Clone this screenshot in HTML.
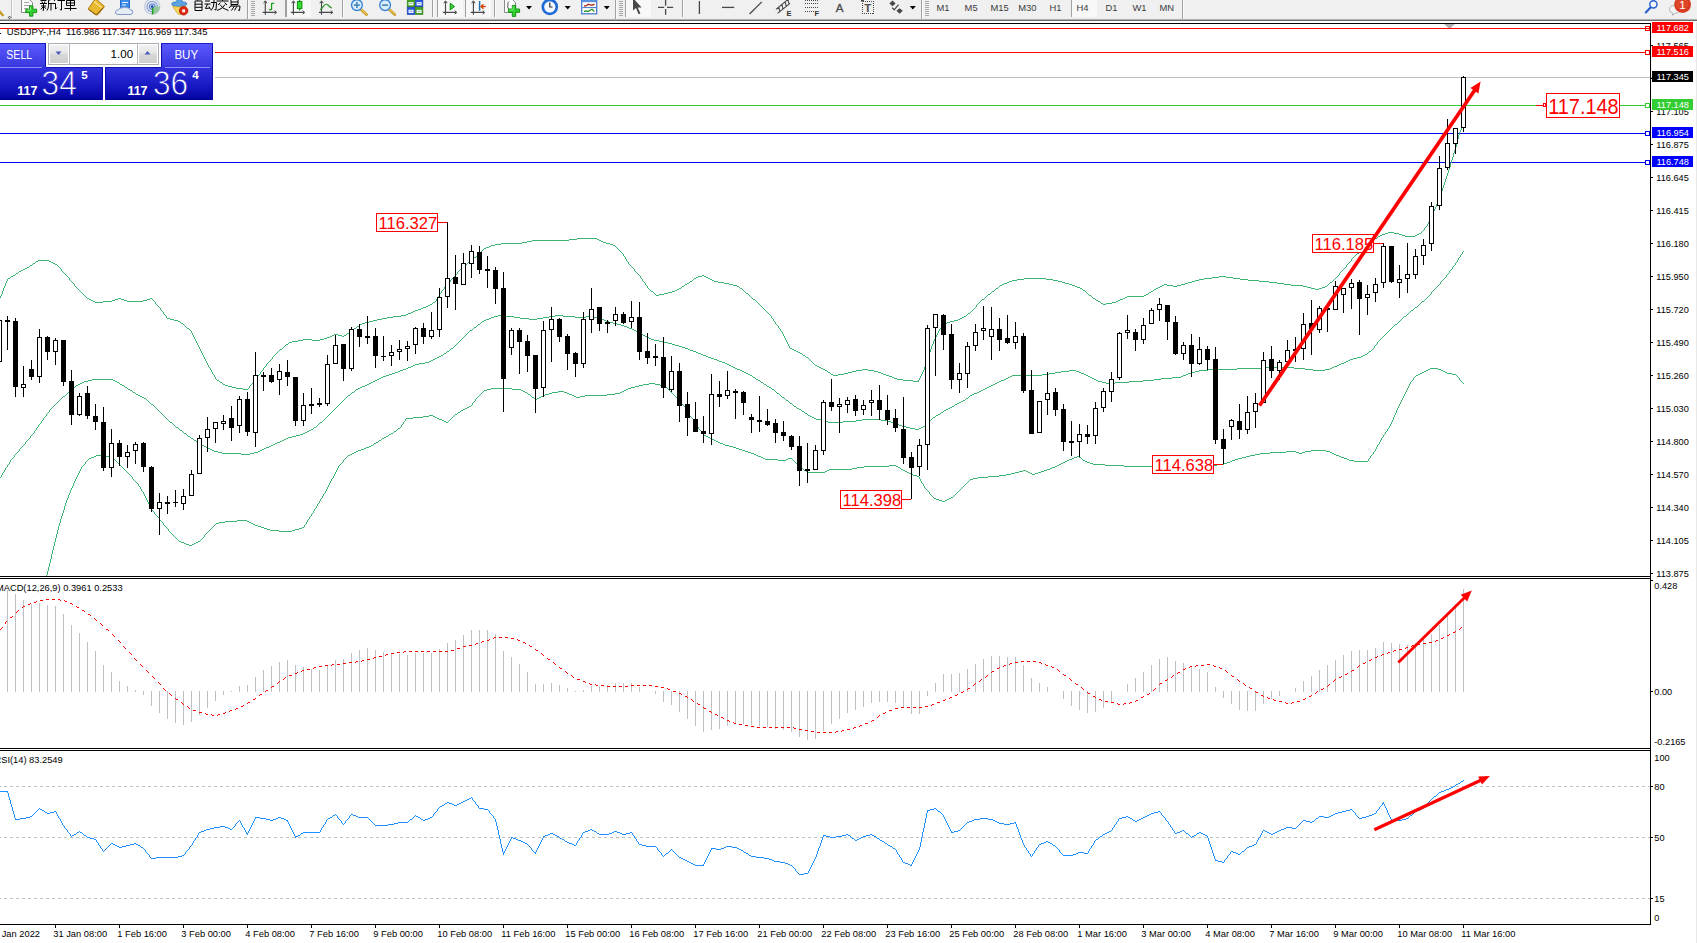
<!DOCTYPE html><html><head><meta charset="utf-8"><title>USDJPY H4</title>
<style>html,body{margin:0;padding:0;background:#fff;overflow:hidden}svg{display:block}text{font-family:"Liberation Sans",sans-serif}</style></head><body>
<svg width="1697" height="943" viewBox="0 0 1697 943">
<rect x="0" y="0" width="1697" height="943" fill="#fff" />
<defs><clipPath id="cm"><rect x="0" y="24" width="1650" height="552"/></clipPath><clipPath id="c2"><rect x="0" y="579" width="1650" height="169"/></clipPath><clipPath id="c3"><rect x="0" y="751" width="1650" height="173"/></clipPath></defs>
<g shape-rendering="crispEdges">
<rect x="0" y="28" width="1650" height="1" fill="#ff0000" />
<rect x="0" y="52" width="1650" height="1" fill="#ff0000" />
<rect x="0" y="77" width="1653" height="1" fill="#c0c0c0" />
<rect x="0" y="105" width="1650" height="1" fill="#32cd32" />
<rect x="0" y="133" width="1650" height="1" fill="#0000ff" />
<rect x="0" y="162" width="1650" height="1" fill="#0000ff" />
</g>
<path d="M0.5 296v2M1.5 294v2M2.5 291v3M3.5 288v3M4.5 286v2M5.5 283v3M6.5 281v2M7.5 279v2M61.5 269v2M69.5 278v2M74.5 284v2M155.5 302v2M160.5 308v2M163.5 312v2M166.5 316v2M191.5 331v2M192.5 333v2M193.5 335v2M194.5 337v2M195.5 339v2M196.5 341v2M197.5 343v2M198.5 345v2M199.5 347v2M200.5 349v2M201.5 351v2M202.5 353v2M203.5 355v2M204.5 357v2M205.5 359v2M206.5 361v2M207.5 363v2M208.5 365v2M210.5 368v2M211.5 370v2M212.5 372v2M214.5 375v2M215.5 377v2M249.5 386v2M254.5 380v2M257.5 376v2M260.5 372v2M263.5 368v2M266.5 364v2M272.5 357v2M436.5 299v2M437.5 297v2M439.5 294v2M441.5 291v2M444.5 287v2M450.5 280v2M457.5 272v2M623.5 254v2M625.5 257v2M626.5 259v2M628.5 262v2M634.5 269v2M640.5 276v2M642.5 279v2M645.5 283v2M647.5 286v2M771.5 316v2M773.5 319v2M775.5 322v2M778.5 326v2M780.5 329v2M782.5 332v2M783.5 334v2M784.5 336v2M785.5 338v2M786.5 340v2M787.5 342v2M788.5 344v2M789.5 346v2M918.5 380v2M919.5 378v2M920.5 376v2M921.5 374v2M922.5 372v2M923.5 370v2M924.5 367v3M925.5 364v3M926.5 361v3M927.5 358v3M928.5 355v3M929.5 352v3M930.5 349v3M931.5 346v3M932.5 344v2M933.5 341v3M934.5 339v2M935.5 337v2M936.5 335v2M937.5 333v2M938.5 331v2M939.5 329v2M976.5 305v2M1339.5 273v2M1346.5 265v2M1351.5 259v2M1424.5 228v2M1427.5 224v2M1428.5 222v2M1429.5 220v2M1430.5 218v2M1431.5 216v2M1432.5 213v3M1433.5 211v2M1434.5 209v2M1435.5 207v2M1436.5 204v3M1437.5 201v3M1438.5 199v2M1439.5 196v3M1440.5 193v3M1441.5 191v2M1442.5 188v3M1443.5 185v3M1444.5 182v3M1445.5 179v3M1446.5 176v3M1447.5 173v3M1448.5 170v3M1449.5 167v3M1450.5 163v4M1451.5 160v3M1452.5 157v3M1453.5 153v4M1454.5 150v3M1455.5 147v3M1456.5 143v4M1457.5 139v4M1458.5 135v4M1459.5 132v3M1460.5 130v2M1461.5 128v2M1462.5 126v2M1463 125.5h1M1426 226.5h1M1425 227.5h1M1423 230.5h1M1422 231.5h1M1388 232.5h6M1421 232.5h1M1385 233.5h3M1394 233.5h5M1419 233.5h2M1382 234.5h3M1399 234.5h3M1417 234.5h2M1380 235.5h2M1402 235.5h3M1415 235.5h2M1378 236.5h2M1405 236.5h10M1377 237.5h1M577 238.5h20M1375 238.5h2M569 239.5h8M597 239.5h2M1374 239.5h1M532 240.5h37M599 240.5h2M1372 240.5h2M527 241.5h5M601 241.5h2M1371 241.5h1M522 242.5h5M603 242.5h3M1370 242.5h1M501 243.5h21M606 243.5h4M1369 243.5h1M495 244.5h6M610 244.5h3M1368 244.5h1M491 245.5h4M613 245.5h2M1366 245.5h2M489 246.5h2M615 246.5h1M1365 246.5h1M486 247.5h3M616 247.5h1M1364 247.5h1M484 248.5h2M617 248.5h1M1363 248.5h1M483 249.5h1M618 249.5h1M1362 249.5h1M482 250.5h1M619 250.5h1M1361 250.5h1M481 251.5h1M620 251.5h1M1360 251.5h1M480 252.5h1M621 252.5h1M1359 252.5h1M479 253.5h1M622 253.5h1M1357 253.5h2M478 254.5h1M1356 254.5h1M477 255.5h1M1355 255.5h1M476 256.5h1M624 256.5h1M1354 256.5h1M474 257.5h2M1353 257.5h1M473 258.5h1M1352 258.5h1M472 259.5h1M38 260.5h11M470 260.5h2M36 261.5h2M49 261.5h2M469 261.5h1M627 261.5h1M1350 261.5h1M35 262.5h1M51 262.5h2M468 262.5h1M1349 262.5h1M33 263.5h2M53 263.5h2M467 263.5h1M1348 263.5h1M32 264.5h1M55 264.5h2M466 264.5h1M629 264.5h1M1347 264.5h1M30 265.5h2M57 265.5h1M464 265.5h2M630 265.5h1M29 266.5h1M58 266.5h1M463 266.5h1M631 266.5h1M27 267.5h2M59 267.5h1M462 267.5h1M632 267.5h1M1345 267.5h1M25 268.5h2M60 268.5h1M461 268.5h1M633 268.5h1M1344 268.5h1M23 269.5h2M460 269.5h1M1343 269.5h1M21 270.5h2M459 270.5h1M1342 270.5h1M19 271.5h2M62 271.5h1M458 271.5h1M635 271.5h1M1341 271.5h1M18 272.5h1M63 272.5h1M636 272.5h1M1340 272.5h1M16 273.5h2M64 273.5h1M637 273.5h1M15 274.5h1M65 274.5h1M456 274.5h1M638 274.5h1M13 275.5h2M66 275.5h1M455 275.5h1M639 275.5h1M702 275.5h2M1338 275.5h1M11 276.5h2M67 276.5h1M454 276.5h1M698 276.5h4M704 276.5h2M1219 276.5h7M1337 276.5h1M10 277.5h1M68 277.5h1M453 277.5h1M696 277.5h2M706 277.5h2M1212 277.5h7M1226 277.5h7M1336 277.5h1M8 278.5h2M452 278.5h1M641 278.5h1M694 278.5h2M708 278.5h2M1024 278.5h22M1204 278.5h8M1233 278.5h7M1335 278.5h1M451 279.5h1M693 279.5h1M710 279.5h2M1017 279.5h7M1046 279.5h7M1199 279.5h5M1240 279.5h8M1334 279.5h1M70 280.5h1M692 280.5h1M712 280.5h2M1012 280.5h5M1053 280.5h5M1195 280.5h4M1248 280.5h11M1333 280.5h1M71 281.5h1M643 281.5h1M690 281.5h2M714 281.5h4M1009 281.5h3M1058 281.5h4M1192 281.5h3M1259 281.5h10M1332 281.5h1M72 282.5h1M449 282.5h1M644 282.5h1M689 282.5h1M718 282.5h6M1007 282.5h2M1062 282.5h3M1188 282.5h4M1269 282.5h8M1330 282.5h2M73 283.5h1M448 283.5h1M687 283.5h2M724 283.5h5M1004 283.5h3M1065 283.5h4M1185 283.5h3M1277 283.5h7M1329 283.5h1M447 284.5h1M685 284.5h2M729 284.5h4M1002 284.5h2M1069 284.5h3M1164 284.5h3M1181 284.5h4M1284 284.5h7M1328 284.5h1M446 285.5h1M646 285.5h1M684 285.5h1M733 285.5h4M1000 285.5h2M1072 285.5h3M1162 285.5h2M1167 285.5h6M1177 285.5h4M1291 285.5h12M1327 285.5h1M75 286.5h1M445 286.5h1M682 286.5h2M737 286.5h2M999 286.5h1M1075 286.5h2M1160 286.5h2M1173 286.5h4M1303 286.5h4M1325 286.5h2M76 287.5h1M681 287.5h1M739 287.5h1M998 287.5h1M1077 287.5h3M1158 287.5h2M1307 287.5h4M1322 287.5h3M77 288.5h1M648 288.5h1M679 288.5h2M740 288.5h2M996 288.5h2M1080 288.5h2M1156 288.5h2M1311 288.5h4M1319 288.5h3M78 289.5h1M443 289.5h1M649 289.5h1M677 289.5h2M742 289.5h1M995 289.5h1M1082 289.5h1M1154 289.5h2M1315 289.5h4M79 290.5h1M442 290.5h1M650 290.5h1M675 290.5h2M743 290.5h1M994 290.5h1M1083 290.5h2M1153 290.5h1M80 291.5h1M651 291.5h2M672 291.5h3M744 291.5h1M992 291.5h2M1085 291.5h1M1151 291.5h2M81 292.5h1M653 292.5h1M668 292.5h4M745 292.5h1M991 292.5h1M1086 292.5h1M1149 292.5h2M82 293.5h1M440 293.5h1M654 293.5h1M664 293.5h4M746 293.5h2M990 293.5h1M1087 293.5h1M1148 293.5h1M83 294.5h1M655 294.5h1M659 294.5h5M748 294.5h1M988 294.5h2M1088 294.5h1M1146 294.5h2M84 295.5h1M656 295.5h3M749 295.5h1M987 295.5h1M1089 295.5h2M1144 295.5h2M85 296.5h1M438 296.5h1M750 296.5h1M986 296.5h1M1091 296.5h1M1127 296.5h17M86 297.5h1M751 297.5h1M985 297.5h1M1092 297.5h1M1125 297.5h2M87 298.5h2M118 298.5h3M150 298.5h2M752 298.5h1M984 298.5h1M1093 298.5h2M1123 298.5h2M89 299.5h2M115 299.5h3M121 299.5h3M147 299.5h3M152 299.5h1M753 299.5h2M982 299.5h2M1095 299.5h1M1120 299.5h3M91 300.5h2M112 300.5h3M124 300.5h3M143 300.5h4M153 300.5h1M755 300.5h1M981 300.5h1M1096 300.5h2M1118 300.5h2M93 301.5h2M103 301.5h9M127 301.5h16M154 301.5h1M435 301.5h1M756 301.5h1M980 301.5h1M1098 301.5h2M1116 301.5h2M95 302.5h8M433 302.5h2M757 302.5h1M979 302.5h1M1100 302.5h1M1112 302.5h4M432 303.5h1M758 303.5h1M978 303.5h1M1101 303.5h2M1106 303.5h6M156 304.5h1M430 304.5h2M759 304.5h1M977 304.5h1M1103 304.5h3M157 305.5h1M428 305.5h2M760 305.5h1M158 306.5h1M426 306.5h2M761 306.5h1M159 307.5h1M423 307.5h3M762 307.5h1M975 307.5h1M421 308.5h2M763 308.5h1M974 308.5h1M418 309.5h3M764 309.5h1M973 309.5h1M161 310.5h1M415 310.5h3M765 310.5h1M972 310.5h1M162 311.5h1M413 311.5h2M766 311.5h1M971 311.5h1M411 312.5h2M767 312.5h1M970 312.5h1M408 313.5h3M768 313.5h1M968 313.5h2M164 314.5h1M406 314.5h2M769 314.5h1M967 314.5h1M165 315.5h1M401 315.5h5M770 315.5h1M966 315.5h1M393 316.5h8M964 316.5h2M387 317.5h6M962 317.5h2M167 318.5h3M382 318.5h5M772 318.5h1M960 318.5h2M170 319.5h4M377 319.5h5M958 319.5h2M174 320.5h4M373 320.5h4M954 320.5h4M178 321.5h2M369 321.5h4M774 321.5h1M950 321.5h4M180 322.5h1M365 322.5h4M947 322.5h3M181 323.5h2M362 323.5h3M946 323.5h1M183 324.5h1M360 324.5h2M776 324.5h1M945 324.5h1M184 325.5h1M359 325.5h1M777 325.5h1M943 325.5h2M185 326.5h1M357 326.5h2M942 326.5h1M186 327.5h1M356 327.5h1M941 327.5h1M187 328.5h2M354 328.5h2M779 328.5h1M940 328.5h1M189 329.5h1M353 329.5h1M190 330.5h1M351 330.5h2M350 331.5h1M781 331.5h1M349 332.5h1M347 333.5h2M334 334.5h4M346 334.5h1M332 335.5h2M338 335.5h4M344 335.5h2M330 336.5h2M342 336.5h2M327 337.5h3M324 338.5h3M303 339.5h9M320 339.5h4M298 340.5h5M312 340.5h8M292 341.5h6M289 342.5h3M288 343.5h1M286 344.5h2M285 345.5h1M284 346.5h1M283 347.5h1M282 348.5h1M790 348.5h2M280 349.5h2M792 349.5h2M279 350.5h1M794 350.5h2M278 351.5h1M796 351.5h2M277 352.5h1M798 352.5h2M276 353.5h1M800 353.5h2M275 354.5h1M802 354.5h1M274 355.5h1M803 355.5h2M273 356.5h1M805 356.5h1M806 357.5h2M808 358.5h1M271 359.5h1M809 359.5h1M270 360.5h1M810 360.5h1M269 361.5h1M811 361.5h1M268 362.5h1M812 362.5h1M267 363.5h1M813 363.5h1M814 364.5h1M815 365.5h2M265 366.5h1M817 366.5h2M209 367.5h1M264 367.5h1M819 367.5h2M821 368.5h2M823 369.5h2M862 369.5h6M262 370.5h1M825 370.5h2M856 370.5h6M868 370.5h6M261 371.5h1M827 371.5h1M852 371.5h4M874 371.5h4M828 372.5h2M848 372.5h4M878 372.5h3M830 373.5h1M844 373.5h4M881 373.5h2M213 374.5h1M259 374.5h1M831 374.5h2M838 374.5h6M883 374.5h3M258 375.5h1M833 375.5h5M886 375.5h3M889 376.5h3M892 377.5h2M256 378.5h1M894 378.5h3M216 379.5h1M255 379.5h1M897 379.5h6M217 380.5h2M903 380.5h10M219 381.5h1M913 381.5h5M220 382.5h2M253 382.5h1M222 383.5h1M252 383.5h1M223 384.5h2M251 384.5h1M225 385.5h3M250 385.5h1M228 386.5h4M232 387.5h4M236 388.5h7M248 388.5h1M243 389.5h5" stroke="#3cb371" stroke-width="1" fill="none" shape-rendering="crispEdges"/>
<path d="M1.5 475v2M2.5 473v2M4.5 470v2M5.5 468v2M7.5 465v2M9.5 462v2M10.5 460v2M14.5 455v2M19.5 449v2M25.5 442v2M30.5 436v2M34.5 431v2M36.5 428v2M38.5 425v2M41.5 421v2M43.5 418v2M46.5 414v2M49.5 410v2M1374.5 346v2M1377.5 342v2M1431.5 292v2M1440.5 282v2M1446.5 275v2M1449.5 271v2M1452.5 267v2M1455.5 263v2M1457.5 260v2M1458.5 258v2M1460.5 255v2M1462.5 252v2M1463 251.5h1M1461 254.5h1M1459 257.5h1M1456 262.5h1M1454 265.5h1M1453 266.5h1M1451 269.5h1M1450 270.5h1M1448 273.5h1M1447 274.5h1M1445 277.5h1M1444 278.5h1M1443 279.5h1M1442 280.5h1M1441 281.5h1M1439 284.5h1M1438 285.5h1M1437 286.5h1M1436 287.5h1M1435 288.5h1M1434 289.5h1M1433 290.5h1M1432 291.5h1M1430 294.5h1M1429 295.5h1M1428 296.5h1M1427 297.5h1M1426 298.5h1M1425 299.5h1M1424 300.5h1M1422 301.5h2M1421 302.5h1M1420 303.5h1M1419 304.5h1M1418 305.5h1M1417 306.5h1M1415 307.5h2M1414 308.5h1M1413 309.5h1M1411 310.5h2M1410 311.5h1M1409 312.5h1M1408 313.5h1M1407 314.5h1M498 315.5h8M555 315.5h8M1406 315.5h1M494 316.5h4M506 316.5h8M549 316.5h6M563 316.5h12M586 316.5h8M1404 316.5h2M491 317.5h3M514 317.5h6M543 317.5h6M575 317.5h11M594 317.5h4M1403 317.5h1M489 318.5h2M520 318.5h9M537 318.5h6M598 318.5h3M1402 318.5h1M486 319.5h3M529 319.5h8M601 319.5h3M1401 319.5h1M484 320.5h2M604 320.5h2M1400 320.5h1M482 321.5h2M606 321.5h3M1399 321.5h1M481 322.5h1M609 322.5h4M1398 322.5h1M480 323.5h1M613 323.5h4M1397 323.5h1M478 324.5h2M617 324.5h4M1395 324.5h2M477 325.5h1M621 325.5h3M1394 325.5h1M476 326.5h1M624 326.5h3M1393 326.5h1M474 327.5h2M627 327.5h2M1392 327.5h1M473 328.5h1M629 328.5h3M1391 328.5h1M472 329.5h1M632 329.5h2M1390 329.5h1M470 330.5h2M634 330.5h2M1389 330.5h1M469 331.5h1M636 331.5h2M1388 331.5h1M468 332.5h1M638 332.5h2M1387 332.5h1M467 333.5h1M640 333.5h1M1386 333.5h1M466 334.5h1M641 334.5h2M1385 334.5h1M465 335.5h1M643 335.5h2M1384 335.5h1M464 336.5h1M645 336.5h2M1383 336.5h1M463 337.5h1M647 337.5h2M1382 337.5h1M462 338.5h1M649 338.5h2M1381 338.5h1M461 339.5h1M651 339.5h3M1380 339.5h1M460 340.5h1M654 340.5h5M1379 340.5h1M459 341.5h1M659 341.5h5M1378 341.5h1M458 342.5h1M664 342.5h4M457 343.5h1M668 343.5h4M456 344.5h1M672 344.5h3M1376 344.5h1M455 345.5h1M675 345.5h4M1375 345.5h1M454 346.5h1M679 346.5h3M453 347.5h1M682 347.5h3M451 348.5h2M685 348.5h3M1373 348.5h1M450 349.5h1M688 349.5h2M1372 349.5h1M449 350.5h1M690 350.5h3M1371 350.5h1M447 351.5h2M693 351.5h3M1369 351.5h2M446 352.5h1M696 352.5h2M1368 352.5h1M444 353.5h2M698 353.5h3M1367 353.5h1M443 354.5h1M701 354.5h2M1365 354.5h2M441 355.5h2M703 355.5h3M1363 355.5h2M439 356.5h2M706 356.5h2M1361 356.5h2M437 357.5h2M708 357.5h3M1357 357.5h4M435 358.5h2M711 358.5h3M1353 358.5h4M433 359.5h2M714 359.5h3M1350 359.5h3M431 360.5h2M717 360.5h2M1348 360.5h2M429 361.5h2M719 361.5h3M1346 361.5h2M425 362.5h4M722 362.5h3M1344 362.5h2M419 363.5h6M725 363.5h2M1341 363.5h3M415 364.5h4M727 364.5h2M1339 364.5h2M413 365.5h2M729 365.5h2M1337 365.5h2M411 366.5h2M731 366.5h2M1334 366.5h3M408 367.5h3M733 367.5h2M1266 367.5h28M1332 367.5h2M406 368.5h2M735 368.5h2M1237 368.5h29M1294 368.5h11M1330 368.5h2M403 369.5h3M737 369.5h3M1208 369.5h29M1305 369.5h8M1325 369.5h5M400 370.5h3M740 370.5h2M1069 370.5h7M1199 370.5h9M1313 370.5h12M398 371.5h2M742 371.5h2M1061 371.5h8M1076 371.5h3M1195 371.5h4M395 372.5h3M744 372.5h2M1055 372.5h6M1079 372.5h2M1191 372.5h4M392 373.5h3M746 373.5h2M1049 373.5h6M1081 373.5h3M1188 373.5h3M389 374.5h3M748 374.5h2M1042 374.5h7M1084 374.5h2M1186 374.5h2M386 375.5h3M750 375.5h2M1012 375.5h30M1086 375.5h2M1183 375.5h3M383 376.5h3M752 376.5h1M1010 376.5h2M1088 376.5h2M1181 376.5h2M381 377.5h2M753 377.5h2M1008 377.5h2M1090 377.5h2M1172 377.5h9M379 378.5h2M755 378.5h1M1006 378.5h2M1092 378.5h2M1161 378.5h11M92 379.5h21M377 379.5h2M756 379.5h2M1004 379.5h2M1094 379.5h2M1154 379.5h7M88 380.5h4M113 380.5h2M375 380.5h2M758 380.5h2M1001 380.5h3M1096 380.5h2M1143 380.5h11M84 381.5h4M115 381.5h2M373 381.5h2M760 381.5h1M999 381.5h2M1098 381.5h4M1129 381.5h14M82 382.5h2M117 382.5h2M371 382.5h2M761 382.5h2M997 382.5h2M1102 382.5h4M1115 382.5h14M80 383.5h2M119 383.5h1M369 383.5h2M763 383.5h1M995 383.5h2M1106 383.5h9M78 384.5h2M120 384.5h2M367 384.5h2M764 384.5h2M993 384.5h2M76 385.5h2M122 385.5h2M365 385.5h2M766 385.5h1M991 385.5h2M75 386.5h1M124 386.5h1M362 386.5h3M767 386.5h2M989 386.5h2M74 387.5h1M125 387.5h2M360 387.5h2M769 387.5h2M987 387.5h2M73 388.5h1M127 388.5h1M358 388.5h2M771 388.5h1M985 388.5h2M71 389.5h2M128 389.5h2M356 389.5h2M772 389.5h2M983 389.5h2M70 390.5h1M130 390.5h2M355 390.5h1M774 390.5h1M981 390.5h2M69 391.5h1M132 391.5h1M354 391.5h1M775 391.5h1M979 391.5h2M68 392.5h1M133 392.5h2M352 392.5h2M776 392.5h1M977 392.5h2M67 393.5h1M135 393.5h1M351 393.5h1M777 393.5h2M974 393.5h3M66 394.5h1M136 394.5h2M350 394.5h1M779 394.5h1M972 394.5h2M65 395.5h1M138 395.5h2M348 395.5h2M780 395.5h1M970 395.5h2M63 396.5h2M140 396.5h2M347 396.5h1M781 396.5h1M969 396.5h1M62 397.5h1M142 397.5h2M346 397.5h1M782 397.5h2M968 397.5h1M61 398.5h1M144 398.5h2M345 398.5h1M784 398.5h1M966 398.5h2M60 399.5h1M146 399.5h1M344 399.5h1M785 399.5h1M965 399.5h1M59 400.5h1M147 400.5h1M343 400.5h1M786 400.5h2M963 400.5h2M58 401.5h1M148 401.5h1M342 401.5h1M788 401.5h1M961 401.5h2M57 402.5h1M149 402.5h1M341 402.5h1M789 402.5h1M959 402.5h2M56 403.5h1M150 403.5h1M340 403.5h1M790 403.5h2M957 403.5h2M55 404.5h1M151 404.5h2M339 404.5h1M792 404.5h1M955 404.5h2M54 405.5h1M153 405.5h1M338 405.5h1M793 405.5h1M954 405.5h1M53 406.5h1M154 406.5h1M337 406.5h1M794 406.5h2M952 406.5h2M52 407.5h1M155 407.5h1M336 407.5h1M796 407.5h1M950 407.5h2M51 408.5h1M156 408.5h1M335 408.5h1M797 408.5h2M948 408.5h2M50 409.5h1M157 409.5h1M334 409.5h1M799 409.5h2M946 409.5h2M158 410.5h1M333 410.5h1M801 410.5h1M944 410.5h2M159 411.5h1M332 411.5h1M802 411.5h2M943 411.5h1M48 412.5h1M160 412.5h1M331 412.5h1M804 412.5h1M941 412.5h2M47 413.5h1M161 413.5h1M330 413.5h1M805 413.5h2M940 413.5h1M162 414.5h1M329 414.5h1M807 414.5h1M938 414.5h2M163 415.5h1M328 415.5h1M808 415.5h2M936 415.5h2M45 416.5h1M164 416.5h1M327 416.5h1M810 416.5h2M935 416.5h1M44 417.5h1M165 417.5h1M326 417.5h1M812 417.5h2M933 417.5h2M166 418.5h1M325 418.5h1M814 418.5h2M932 418.5h1M167 419.5h1M324 419.5h1M816 419.5h5M862 419.5h19M931 419.5h1M42 420.5h1M168 420.5h1M323 420.5h1M821 420.5h3M856 420.5h6M881 420.5h6M930 420.5h1M169 421.5h1M322 421.5h1M824 421.5h4M843 421.5h13M887 421.5h4M929 421.5h1M170 422.5h2M320 422.5h2M828 422.5h15M891 422.5h3M928 422.5h1M40 423.5h1M172 423.5h1M319 423.5h1M894 423.5h2M927 423.5h1M39 424.5h1M173 424.5h1M318 424.5h1M896 424.5h3M926 424.5h1M174 425.5h1M317 425.5h1M899 425.5h3M925 425.5h1M175 426.5h1M316 426.5h1M902 426.5h4M923 426.5h2M37 427.5h1M176 427.5h2M314 427.5h2M906 427.5h4M921 427.5h2M178 428.5h1M313 428.5h1M910 428.5h5M919 428.5h2M179 429.5h1M311 429.5h2M915 429.5h4M35 430.5h1M180 430.5h2M309 430.5h2M182 431.5h1M307 431.5h2M183 432.5h1M305 432.5h2M33 433.5h1M184 433.5h2M303 433.5h2M32 434.5h1M186 434.5h1M300 434.5h3M31 435.5h1M187 435.5h1M296 435.5h4M188 436.5h2M292 436.5h4M190 437.5h1M288 437.5h4M29 438.5h1M191 438.5h2M286 438.5h2M28 439.5h1M193 439.5h1M284 439.5h2M27 440.5h1M194 440.5h2M282 440.5h2M26 441.5h1M196 441.5h2M280 441.5h2M198 442.5h1M277 442.5h3M199 443.5h2M275 443.5h2M24 444.5h1M201 444.5h1M273 444.5h2M23 445.5h1M202 445.5h2M271 445.5h2M22 446.5h1M204 446.5h2M269 446.5h2M21 447.5h1M206 447.5h2M266 447.5h3M20 448.5h1M208 448.5h2M264 448.5h2M210 449.5h2M262 449.5h2M212 450.5h2M260 450.5h2M18 451.5h1M214 451.5h4M258 451.5h2M17 452.5h1M218 452.5h4M254 452.5h4M16 453.5h1M222 453.5h19M250 453.5h4M15 454.5h1M241 454.5h9M13 457.5h1M12 458.5h1M11 459.5h1M8 464.5h1M6 467.5h1M3 472.5h1M0 477.5h1" stroke="#3cb371" stroke-width="1" fill="none" shape-rendering="crispEdges"/>
<path d="M47.5 571v4M48.5 567v4M49.5 563v4M50.5 559v4M51.5 554v5M52.5 550v4M53.5 546v4M54.5 542v4M55.5 538v4M56.5 534v4M57.5 530v4M58.5 526v4M59.5 523v3M60.5 519v4M61.5 516v3M62.5 513v3M63.5 510v3M64.5 506v4M65.5 503v3M66.5 500v3M67.5 498v2M68.5 495v3M69.5 493v2M70.5 490v3M71.5 488v2M72.5 486v2M73.5 483v3M74.5 481v2M75.5 479v2M76.5 477v2M77.5 475v2M78.5 473v2M79.5 471v2M80.5 469v2M81.5 467v2M85.5 462v2M132.5 477v2M138.5 484v2M140.5 487v2M141.5 489v2M143.5 492v2M144.5 494v2M145.5 496v2M146.5 498v2M147.5 500v2M148.5 502v2M149.5 504v2M150.5 506v2M151.5 508v2M154.5 512v2M159.5 518v2M163.5 523v2M168.5 529v2M204.5 535v2M304.5 525v2M306.5 522v2M307.5 520v2M309.5 517v2M311.5 514v2M313.5 511v2M314.5 509v2M316.5 506v2M317.5 504v2M319.5 501v2M320.5 499v2M322.5 496v2M323.5 494v2M325.5 491v2M326.5 489v2M327.5 487v2M328.5 485v2M329.5 483v2M330.5 481v2M331.5 479v2M333.5 476v2M334.5 474v2M335.5 472v2M336.5 470v2M337.5 468v2M338.5 466v2M343.5 460v2M401.5 425v2M403.5 422v2M405.5 419v2M472.5 403v2M475.5 399v2M678.5 399v2M685.5 407v2M686.5 409v2M688.5 412v2M689.5 414v2M694.5 420v2M695.5 422v2M696.5 424v2M698.5 427v2M702.5 432v2M919.5 477v2M920.5 479v2M921.5 481v2M923.5 484v2M924.5 486v2M929.5 492v2M1368.5 459v2M1370.5 456v2M1373.5 452v2M1375.5 449v2M1376.5 447v2M1377.5 445v2M1379.5 442v2M1380.5 440v2M1381.5 438v2M1383.5 435v2M1385.5 432v2M1387.5 429v2M1389.5 426v2M1390.5 424v2M1391.5 422v2M1392.5 420v2M1393.5 417v3M1394.5 415v2M1395.5 413v2M1396.5 410v3M1397.5 408v2M1398.5 406v2M1399.5 404v2M1400.5 402v2M1401.5 400v2M1402.5 398v2M1403.5 396v2M1404.5 394v2M1405.5 392v2M1406.5 390v2M1407.5 388v2M1408.5 386v2M1409.5 384v2M1410.5 382v2M1413.5 378v2M1459.5 378v2M1430 368.5h8M1428 369.5h2M1438 369.5h3M1426 370.5h2M1441 370.5h2M1424 371.5h2M1443 371.5h2M1422 372.5h2M1445 372.5h2M1420 373.5h2M1447 373.5h5M1418 374.5h2M1452 374.5h4M1416 375.5h2M1456 375.5h1M1415 376.5h1M1457 376.5h1M1414 377.5h1M1458 377.5h1M1412 380.5h1M1460 380.5h1M1411 381.5h1M1461 381.5h1M1462 382.5h1M649 383.5h6M1463 383.5h1M643 384.5h6M655 384.5h5M639 385.5h4M660 385.5h3M635 386.5h4M663 386.5h2M631 387.5h4M665 387.5h2M491 388.5h21M628 388.5h3M667 388.5h1M487 389.5h4M512 389.5h9M626 389.5h2M668 389.5h1M484 390.5h3M521 390.5h2M624 390.5h2M669 390.5h1M483 391.5h1M523 391.5h2M558 391.5h6M622 391.5h2M670 391.5h1M482 392.5h1M525 392.5h2M552 392.5h6M564 392.5h3M620 392.5h2M671 392.5h1M481 393.5h1M527 393.5h1M549 393.5h3M567 393.5h2M615 393.5h5M672 393.5h1M480 394.5h1M528 394.5h2M545 394.5h4M569 394.5h3M607 394.5h8M673 394.5h1M479 395.5h1M530 395.5h1M543 395.5h2M572 395.5h2M585 395.5h22M674 395.5h1M478 396.5h1M531 396.5h1M541 396.5h2M574 396.5h2M580 396.5h5M675 396.5h1M477 397.5h1M532 397.5h2M539 397.5h2M576 397.5h4M676 397.5h1M476 398.5h1M534 398.5h1M537 398.5h2M677 398.5h1M535 399.5h2M474 401.5h1M679 401.5h1M473 402.5h1M680 402.5h1M681 403.5h1M682 404.5h1M471 405.5h1M683 405.5h1M469 406.5h2M684 406.5h1M467 407.5h2M465 408.5h2M463 409.5h2M461 410.5h2M460 411.5h1M687 411.5h1M458 412.5h2M457 413.5h1M455 414.5h2M429 415.5h4M454 415.5h1M423 416.5h6M433 416.5h2M453 416.5h1M690 416.5h1M413 417.5h10M435 417.5h2M452 417.5h1M691 417.5h1M406 418.5h7M437 418.5h2M451 418.5h1M692 418.5h1M439 419.5h3M450 419.5h1M693 419.5h1M442 420.5h2M449 420.5h1M404 421.5h1M444 421.5h2M448 421.5h1M446 422.5h2M402 424.5h1M697 426.5h1M400 427.5h1M398 428.5h2M1388 428.5h1M397 429.5h1M699 429.5h1M396 430.5h1M700 430.5h1M394 431.5h2M701 431.5h1M1386 431.5h1M393 432.5h1M391 433.5h2M389 434.5h2M703 434.5h1M1384 434.5h1M388 435.5h1M704 435.5h2M386 436.5h2M706 436.5h2M384 437.5h2M708 437.5h2M1382 437.5h1M382 438.5h2M710 438.5h2M381 439.5h1M712 439.5h2M379 440.5h2M714 440.5h2M378 441.5h1M716 441.5h2M376 442.5h2M718 442.5h2M374 443.5h2M720 443.5h3M373 444.5h1M723 444.5h2M1378 444.5h1M371 445.5h2M725 445.5h4M369 446.5h2M729 446.5h4M366 447.5h3M733 447.5h3M364 448.5h2M736 448.5h3M361 449.5h3M739 449.5h3M358 450.5h3M742 450.5h3M1311 450.5h15M356 451.5h2M745 451.5h3M1286 451.5h10M1305 451.5h6M1326 451.5h4M1374 451.5h1M354 452.5h2M748 452.5h3M1270 452.5h16M1296 452.5h3M1302 452.5h3M1330 452.5h2M352 453.5h2M751 453.5h3M1260 453.5h10M1299 453.5h3M1332 453.5h2M350 454.5h2M754 454.5h2M1255 454.5h5M1334 454.5h2M1372 454.5h1M96 455.5h5M348 455.5h2M756 455.5h2M1250 455.5h5M1336 455.5h3M1371 455.5h1M94 456.5h2M101 456.5h11M347 456.5h1M758 456.5h3M1077 456.5h2M1246 456.5h4M1339 456.5h2M91 457.5h3M112 457.5h1M346 457.5h1M761 457.5h2M1074 457.5h3M1079 457.5h2M1242 457.5h4M1341 457.5h3M89 458.5h2M113 458.5h1M345 458.5h1M763 458.5h2M788 458.5h4M1072 458.5h2M1081 458.5h1M1238 458.5h4M1344 458.5h3M1369 458.5h1M88 459.5h1M114 459.5h1M344 459.5h1M765 459.5h13M786 459.5h2M792 459.5h1M1069 459.5h3M1082 459.5h1M1235 459.5h3M1347 459.5h2M87 460.5h1M115 460.5h1M778 460.5h8M793 460.5h1M1067 460.5h2M1083 460.5h2M1232 460.5h3M1349 460.5h5M86 461.5h1M116 461.5h1M794 461.5h1M1065 461.5h2M1085 461.5h2M1230 461.5h2M1354 461.5h14M117 462.5h1M342 462.5h1M795 462.5h1M1063 462.5h2M1087 462.5h3M1227 462.5h3M118 463.5h1M341 463.5h1M796 463.5h1M1061 463.5h2M1090 463.5h3M1224 463.5h3M84 464.5h1M119 464.5h1M340 464.5h1M797 464.5h1M1059 464.5h2M1093 464.5h12M1217 464.5h7M83 465.5h1M120 465.5h1M339 465.5h1M798 465.5h1M889 465.5h7M1057 465.5h2M1105 465.5h19M1196 465.5h21M82 466.5h1M121 466.5h1M799 466.5h2M864 466.5h25M896 466.5h2M1055 466.5h2M1124 466.5h72M122 467.5h1M801 467.5h1M857 467.5h7M898 467.5h2M1052 467.5h3M123 468.5h1M802 468.5h1M852 468.5h5M900 468.5h1M1050 468.5h2M124 469.5h1M803 469.5h1M829 469.5h23M901 469.5h2M1047 469.5h3M125 470.5h1M804 470.5h2M827 470.5h2M903 470.5h2M1023 470.5h3M1044 470.5h3M126 471.5h1M806 471.5h2M825 471.5h2M905 471.5h2M1019 471.5h4M1026 471.5h2M1041 471.5h3M127 472.5h1M808 472.5h17M907 472.5h2M1015 472.5h4M1028 472.5h2M1038 472.5h3M128 473.5h1M909 473.5h2M1011 473.5h4M1030 473.5h2M1035 473.5h3M129 474.5h1M911 474.5h2M1006 474.5h5M1032 474.5h3M130 475.5h1M913 475.5h4M999 475.5h7M131 476.5h1M917 476.5h2M988 476.5h11M978 477.5h10M332 478.5h1M973 478.5h5M133 479.5h1M970 479.5h3M134 480.5h1M969 480.5h1M135 481.5h1M968 481.5h1M136 482.5h1M967 482.5h1M137 483.5h1M922 483.5h1M966 483.5h1M965 484.5h1M964 485.5h1M139 486.5h1M963 486.5h1M962 487.5h1M925 488.5h1M961 488.5h1M926 489.5h1M960 489.5h1M927 490.5h1M959 490.5h1M142 491.5h1M928 491.5h1M958 491.5h1M957 492.5h1M324 493.5h1M956 493.5h1M930 494.5h1M955 494.5h1M931 495.5h1M954 495.5h1M932 496.5h1M953 496.5h1M933 497.5h1M951 497.5h2M321 498.5h1M934 498.5h2M949 498.5h2M936 499.5h3M947 499.5h2M939 500.5h3M945 500.5h2M942 501.5h3M318 503.5h1M315 508.5h1M152 510.5h1M153 511.5h1M312 513.5h1M155 514.5h1M156 515.5h1M157 516.5h1M310 516.5h1M158 517.5h1M308 519.5h1M160 520.5h1M237 520.5h10M161 521.5h1M225 521.5h12M247 521.5h2M162 522.5h1M219 522.5h6M249 522.5h2M216 523.5h3M251 523.5h2M215 524.5h1M253 524.5h2M305 524.5h1M164 525.5h1M214 525.5h1M255 525.5h3M165 526.5h1M213 526.5h1M258 526.5h3M166 527.5h1M212 527.5h1M261 527.5h3M302 527.5h2M167 528.5h1M211 528.5h1M264 528.5h3M299 528.5h3M210 529.5h1M267 529.5h3M295 529.5h4M209 530.5h1M270 530.5h9M292 530.5h3M169 531.5h1M208 531.5h1M279 531.5h13M170 532.5h1M207 532.5h1M171 533.5h1M206 533.5h1M172 534.5h1M205 534.5h1M173 535.5h1M174 536.5h1M175 537.5h1M203 537.5h1M176 538.5h1M202 538.5h1M177 539.5h1M201 539.5h1M178 540.5h1M200 540.5h1M179 541.5h2M198 541.5h2M181 542.5h3M196 542.5h2M184 543.5h2M194 543.5h2M186 544.5h3M192 544.5h2M189 545.5h3M46 575.5h1" stroke="#3cb371" stroke-width="1" fill="none" shape-rendering="crispEdges"/>
<g shape-rendering="crispEdges" clip-path="url(#cm)">
<rect x="-1" y="318" width="1" height="46" fill="#000" />
<rect x="-3" y="320" width="5" height="42" fill="#000" />
<rect x="-2" y="321" width="3" height="40" fill="#fff" />
<rect x="7" y="316" width="1" height="34" fill="#000" />
<rect x="5" y="320" width="5" height="2" fill="#000" />
<rect x="15" y="318" width="1" height="79" fill="#000" />
<rect x="13" y="321" width="5" height="66" fill="#000" />
<rect x="23" y="366" width="1" height="31" fill="#000" />
<rect x="21" y="384" width="5" height="4" fill="#000" />
<rect x="22" y="385" width="3" height="2" fill="#fff" />
<rect x="31" y="360" width="1" height="20" fill="#000" />
<rect x="29" y="369" width="5" height="8" fill="#000" />
<rect x="39" y="329" width="1" height="54" fill="#000" />
<rect x="37" y="337" width="5" height="40" fill="#000" />
<rect x="38" y="338" width="3" height="38" fill="#fff" />
<rect x="47" y="336" width="1" height="24" fill="#000" />
<rect x="45" y="337" width="5" height="15" fill="#000" />
<rect x="55" y="338" width="1" height="27" fill="#000" />
<rect x="53" y="340" width="5" height="12" fill="#000" />
<rect x="54" y="341" width="3" height="10" fill="#fff" />
<rect x="63" y="340" width="1" height="46" fill="#000" />
<rect x="61" y="340" width="5" height="42" fill="#000" />
<rect x="71" y="370" width="1" height="55" fill="#000" />
<rect x="69" y="381" width="5" height="34" fill="#000" />
<rect x="79" y="393" width="1" height="23" fill="#000" />
<rect x="77" y="396" width="5" height="19" fill="#000" />
<rect x="78" y="397" width="3" height="17" fill="#fff" />
<rect x="87" y="386" width="1" height="33" fill="#000" />
<rect x="85" y="393" width="5" height="23" fill="#000" />
<rect x="95" y="404" width="1" height="26" fill="#000" />
<rect x="93" y="416" width="5" height="6" fill="#000" />
<rect x="103" y="407" width="1" height="64" fill="#000" />
<rect x="101" y="422" width="5" height="46" fill="#000" />
<rect x="111" y="429" width="1" height="48" fill="#000" />
<rect x="109" y="443" width="5" height="25" fill="#000" />
<rect x="110" y="444" width="3" height="23" fill="#fff" />
<rect x="119" y="440" width="1" height="26" fill="#000" />
<rect x="117" y="443" width="5" height="14" fill="#000" />
<rect x="127" y="445" width="1" height="23" fill="#000" />
<rect x="125" y="452" width="5" height="5" fill="#000" />
<rect x="126" y="453" width="3" height="3" fill="#fff" />
<rect x="135" y="442" width="1" height="22" fill="#000" />
<rect x="133" y="444" width="5" height="7" fill="#000" />
<rect x="134" y="445" width="3" height="5" fill="#fff" />
<rect x="143" y="442" width="1" height="30" fill="#000" />
<rect x="141" y="443" width="5" height="24" fill="#000" />
<rect x="151" y="466" width="1" height="46" fill="#000" />
<rect x="149" y="467" width="5" height="42" fill="#000" />
<rect x="159" y="493" width="1" height="42" fill="#000" />
<rect x="157" y="502" width="5" height="7" fill="#000" />
<rect x="158" y="503" width="3" height="5" fill="#fff" />
<rect x="167" y="496" width="1" height="18" fill="#000" />
<rect x="165" y="502" width="5" height="2" fill="#000" />
<rect x="175" y="490" width="1" height="17" fill="#000" />
<rect x="173" y="502" width="5" height="1" fill="#000" />
<rect x="183" y="489" width="1" height="21" fill="#000" />
<rect x="181" y="496" width="5" height="8" fill="#000" />
<rect x="182" y="497" width="3" height="6" fill="#fff" />
<rect x="191" y="470" width="1" height="26" fill="#000" />
<rect x="189" y="474" width="5" height="22" fill="#000" />
<rect x="190" y="475" width="3" height="20" fill="#fff" />
<rect x="199" y="435" width="1" height="39" fill="#000" />
<rect x="197" y="438" width="5" height="36" fill="#000" />
<rect x="198" y="439" width="3" height="34" fill="#fff" />
<rect x="207" y="417" width="1" height="35" fill="#000" />
<rect x="205" y="429" width="5" height="9" fill="#000" />
<rect x="206" y="430" width="3" height="7" fill="#fff" />
<rect x="215" y="422" width="1" height="21" fill="#000" />
<rect x="213" y="422" width="5" height="7" fill="#000" />
<rect x="214" y="423" width="3" height="5" fill="#fff" />
<rect x="223" y="415" width="1" height="15" fill="#000" />
<rect x="221" y="421" width="5" height="3" fill="#000" />
<rect x="222" y="422" width="3" height="1" fill="#fff" />
<rect x="231" y="406" width="1" height="35" fill="#000" />
<rect x="229" y="418" width="5" height="10" fill="#000" />
<rect x="239" y="396" width="1" height="37" fill="#000" />
<rect x="237" y="399" width="5" height="27" fill="#000" />
<rect x="238" y="400" width="3" height="25" fill="#fff" />
<rect x="247" y="392" width="1" height="44" fill="#000" />
<rect x="245" y="399" width="5" height="33" fill="#000" />
<rect x="255" y="352" width="1" height="95" fill="#000" />
<rect x="253" y="375" width="5" height="58" fill="#000" />
<rect x="254" y="376" width="3" height="56" fill="#fff" />
<rect x="263" y="372" width="1" height="19" fill="#000" />
<rect x="261" y="375" width="5" height="2" fill="#000" />
<rect x="271" y="368" width="1" height="15" fill="#000" />
<rect x="269" y="375" width="5" height="7" fill="#000" />
<rect x="279" y="364" width="1" height="31" fill="#000" />
<rect x="277" y="371" width="5" height="9" fill="#000" />
<rect x="278" y="372" width="3" height="7" fill="#fff" />
<rect x="287" y="360" width="1" height="26" fill="#000" />
<rect x="285" y="372" width="5" height="5" fill="#000" />
<rect x="295" y="377" width="1" height="49" fill="#000" />
<rect x="293" y="377" width="5" height="44" fill="#000" />
<rect x="303" y="393" width="1" height="33" fill="#000" />
<rect x="301" y="405" width="5" height="16" fill="#000" />
<rect x="302" y="406" width="3" height="14" fill="#fff" />
<rect x="311" y="388" width="1" height="26" fill="#000" />
<rect x="309" y="404" width="5" height="2" fill="#000" />
<rect x="319" y="398" width="1" height="9" fill="#000" />
<rect x="317" y="403" width="5" height="2" fill="#000" />
<rect x="327" y="355" width="1" height="51" fill="#000" />
<rect x="325" y="364" width="5" height="40" fill="#000" />
<rect x="326" y="365" width="3" height="38" fill="#fff" />
<rect x="335" y="335" width="1" height="29" fill="#000" />
<rect x="333" y="345" width="5" height="19" fill="#000" />
<rect x="334" y="346" width="3" height="17" fill="#fff" />
<rect x="343" y="344" width="1" height="37" fill="#000" />
<rect x="341" y="344" width="5" height="25" fill="#000" />
<rect x="351" y="327" width="1" height="44" fill="#000" />
<rect x="349" y="329" width="5" height="40" fill="#000" />
<rect x="350" y="330" width="3" height="38" fill="#fff" />
<rect x="359" y="324" width="1" height="23" fill="#000" />
<rect x="357" y="329" width="5" height="8" fill="#000" />
<rect x="367" y="316" width="1" height="28" fill="#000" />
<rect x="365" y="336" width="5" height="2" fill="#000" />
<rect x="375" y="328" width="1" height="40" fill="#000" />
<rect x="373" y="336" width="5" height="20" fill="#000" />
<rect x="383" y="336" width="1" height="25" fill="#000" />
<rect x="381" y="356" width="5" height="1" fill="#000" />
<rect x="391" y="345" width="1" height="21" fill="#000" />
<rect x="389" y="352" width="5" height="4" fill="#000" />
<rect x="390" y="353" width="3" height="2" fill="#fff" />
<rect x="399" y="340" width="1" height="20" fill="#000" />
<rect x="397" y="349" width="5" height="3" fill="#000" />
<rect x="398" y="350" width="3" height="1" fill="#fff" />
<rect x="407" y="341" width="1" height="20" fill="#000" />
<rect x="405" y="346" width="5" height="3" fill="#000" />
<rect x="406" y="347" width="3" height="1" fill="#fff" />
<rect x="415" y="327" width="1" height="27" fill="#000" />
<rect x="413" y="328" width="5" height="17" fill="#000" />
<rect x="414" y="329" width="3" height="15" fill="#fff" />
<rect x="423" y="323" width="1" height="21" fill="#000" />
<rect x="421" y="328" width="5" height="9" fill="#000" />
<rect x="431" y="312" width="1" height="27" fill="#000" />
<rect x="429" y="330" width="5" height="7" fill="#000" />
<rect x="430" y="331" width="3" height="5" fill="#fff" />
<rect x="439" y="288" width="1" height="49" fill="#000" />
<rect x="437" y="297" width="5" height="33" fill="#000" />
<rect x="438" y="298" width="3" height="31" fill="#fff" />
<rect x="447" y="222" width="1" height="86" fill="#000" />
<rect x="445" y="278" width="5" height="19" fill="#000" />
<rect x="446" y="279" width="3" height="17" fill="#fff" />
<rect x="455" y="255" width="1" height="55" fill="#000" />
<rect x="453" y="277" width="5" height="7" fill="#000" />
<rect x="463" y="253" width="1" height="32" fill="#000" />
<rect x="461" y="263" width="5" height="22" fill="#000" />
<rect x="462" y="264" width="3" height="20" fill="#fff" />
<rect x="471" y="245" width="1" height="33" fill="#000" />
<rect x="469" y="251" width="5" height="13" fill="#000" />
<rect x="470" y="252" width="3" height="11" fill="#fff" />
<rect x="479" y="246" width="1" height="28" fill="#000" />
<rect x="477" y="252" width="5" height="18" fill="#000" />
<rect x="487" y="256" width="1" height="32" fill="#000" />
<rect x="485" y="269" width="5" height="2" fill="#000" />
<rect x="495" y="267" width="1" height="37" fill="#000" />
<rect x="493" y="270" width="5" height="19" fill="#000" />
<rect x="503" y="272" width="1" height="140" fill="#000" />
<rect x="501" y="288" width="5" height="91" fill="#000" />
<rect x="511" y="328" width="1" height="27" fill="#000" />
<rect x="509" y="330" width="5" height="18" fill="#000" />
<rect x="510" y="331" width="3" height="16" fill="#fff" />
<rect x="519" y="328" width="1" height="46" fill="#000" />
<rect x="517" y="330" width="5" height="12" fill="#000" />
<rect x="527" y="335" width="1" height="37" fill="#000" />
<rect x="525" y="341" width="5" height="15" fill="#000" />
<rect x="535" y="355" width="1" height="58" fill="#000" />
<rect x="533" y="355" width="5" height="34" fill="#000" />
<rect x="543" y="321" width="1" height="76" fill="#000" />
<rect x="541" y="330" width="5" height="58" fill="#000" />
<rect x="542" y="331" width="3" height="56" fill="#fff" />
<rect x="551" y="307" width="1" height="55" fill="#000" />
<rect x="549" y="319" width="5" height="11" fill="#000" />
<rect x="550" y="320" width="3" height="9" fill="#fff" />
<rect x="559" y="318" width="1" height="24" fill="#000" />
<rect x="557" y="319" width="5" height="18" fill="#000" />
<rect x="567" y="334" width="1" height="36" fill="#000" />
<rect x="565" y="336" width="5" height="18" fill="#000" />
<rect x="575" y="352" width="1" height="25" fill="#000" />
<rect x="573" y="353" width="5" height="11" fill="#000" />
<rect x="583" y="312" width="1" height="56" fill="#000" />
<rect x="581" y="319" width="5" height="45" fill="#000" />
<rect x="582" y="320" width="3" height="43" fill="#fff" />
<rect x="591" y="288" width="1" height="45" fill="#000" />
<rect x="589" y="309" width="5" height="11" fill="#000" />
<rect x="590" y="310" width="3" height="9" fill="#fff" />
<rect x="599" y="307" width="1" height="24" fill="#000" />
<rect x="597" y="307" width="5" height="17" fill="#000" />
<rect x="607" y="320" width="1" height="13" fill="#000" />
<rect x="605" y="322" width="5" height="2" fill="#000" />
<rect x="615" y="307" width="1" height="19" fill="#000" />
<rect x="613" y="314" width="5" height="7" fill="#000" />
<rect x="614" y="315" width="3" height="5" fill="#fff" />
<rect x="623" y="312" width="1" height="12" fill="#000" />
<rect x="621" y="314" width="5" height="9" fill="#000" />
<rect x="631" y="301" width="1" height="27" fill="#000" />
<rect x="629" y="317" width="5" height="5" fill="#000" />
<rect x="630" y="318" width="3" height="3" fill="#fff" />
<rect x="639" y="302" width="1" height="58" fill="#000" />
<rect x="637" y="317" width="5" height="35" fill="#000" />
<rect x="647" y="333" width="1" height="31" fill="#000" />
<rect x="645" y="351" width="5" height="7" fill="#000" />
<rect x="655" y="344" width="1" height="22" fill="#000" />
<rect x="653" y="356" width="5" height="2" fill="#000" />
<rect x="663" y="337" width="1" height="61" fill="#000" />
<rect x="661" y="357" width="5" height="31" fill="#000" />
<rect x="671" y="356" width="1" height="36" fill="#000" />
<rect x="669" y="371" width="5" height="19" fill="#000" />
<rect x="670" y="372" width="3" height="17" fill="#fff" />
<rect x="679" y="363" width="1" height="59" fill="#000" />
<rect x="677" y="371" width="5" height="35" fill="#000" />
<rect x="687" y="392" width="1" height="44" fill="#000" />
<rect x="685" y="404" width="5" height="14" fill="#000" />
<rect x="695" y="402" width="1" height="30" fill="#000" />
<rect x="693" y="419" width="5" height="13" fill="#000" />
<rect x="703" y="416" width="1" height="27" fill="#000" />
<rect x="701" y="431" width="5" height="3" fill="#000" />
<rect x="711" y="374" width="1" height="71" fill="#000" />
<rect x="709" y="394" width="5" height="40" fill="#000" />
<rect x="710" y="395" width="3" height="38" fill="#fff" />
<rect x="719" y="381" width="1" height="26" fill="#000" />
<rect x="717" y="394" width="5" height="3" fill="#000" />
<rect x="727" y="371" width="1" height="28" fill="#000" />
<rect x="725" y="390" width="5" height="6" fill="#000" />
<rect x="726" y="391" width="3" height="4" fill="#fff" />
<rect x="735" y="389" width="1" height="30" fill="#000" />
<rect x="733" y="391" width="5" height="2" fill="#000" />
<rect x="743" y="391" width="1" height="24" fill="#000" />
<rect x="741" y="392" width="5" height="11" fill="#000" />
<rect x="751" y="414" width="1" height="19" fill="#000" />
<rect x="749" y="417" width="5" height="3" fill="#000" />
<rect x="759" y="396" width="1" height="36" fill="#000" />
<rect x="757" y="420" width="5" height="2" fill="#000" />
<rect x="767" y="409" width="1" height="17" fill="#000" />
<rect x="765" y="421" width="5" height="4" fill="#000" />
<rect x="775" y="419" width="1" height="24" fill="#000" />
<rect x="773" y="423" width="5" height="10" fill="#000" />
<rect x="783" y="421" width="1" height="20" fill="#000" />
<rect x="781" y="432" width="5" height="4" fill="#000" />
<rect x="791" y="435" width="1" height="15" fill="#000" />
<rect x="789" y="436" width="5" height="11" fill="#000" />
<rect x="799" y="436" width="1" height="50" fill="#000" />
<rect x="797" y="446" width="5" height="25" fill="#000" />
<rect x="807" y="443" width="1" height="40" fill="#000" />
<rect x="805" y="469" width="5" height="2" fill="#000" />
<rect x="815" y="445" width="1" height="25" fill="#000" />
<rect x="813" y="450" width="5" height="20" fill="#000" />
<rect x="814" y="451" width="3" height="18" fill="#fff" />
<rect x="823" y="400" width="1" height="55" fill="#000" />
<rect x="821" y="402" width="5" height="49" fill="#000" />
<rect x="822" y="403" width="3" height="47" fill="#fff" />
<rect x="831" y="379" width="1" height="32" fill="#000" />
<rect x="829" y="402" width="5" height="5" fill="#000" />
<rect x="839" y="398" width="1" height="35" fill="#000" />
<rect x="837" y="404" width="5" height="3" fill="#000" />
<rect x="838" y="405" width="3" height="1" fill="#fff" />
<rect x="847" y="397" width="1" height="16" fill="#000" />
<rect x="845" y="400" width="5" height="5" fill="#000" />
<rect x="846" y="401" width="3" height="3" fill="#fff" />
<rect x="855" y="395" width="1" height="21" fill="#000" />
<rect x="853" y="399" width="5" height="12" fill="#000" />
<rect x="863" y="400" width="1" height="15" fill="#000" />
<rect x="861" y="405" width="5" height="5" fill="#000" />
<rect x="862" y="406" width="3" height="3" fill="#fff" />
<rect x="871" y="390" width="1" height="26" fill="#000" />
<rect x="869" y="400" width="5" height="3" fill="#000" />
<rect x="870" y="401" width="3" height="1" fill="#fff" />
<rect x="879" y="385" width="1" height="35" fill="#000" />
<rect x="877" y="400" width="5" height="10" fill="#000" />
<rect x="887" y="395" width="1" height="30" fill="#000" />
<rect x="885" y="410" width="5" height="10" fill="#000" />
<rect x="895" y="409" width="1" height="23" fill="#000" />
<rect x="893" y="418" width="5" height="10" fill="#000" />
<rect x="903" y="397" width="1" height="67" fill="#000" />
<rect x="901" y="429" width="5" height="29" fill="#000" />
<rect x="911" y="452" width="1" height="47" fill="#000" />
<rect x="909" y="457" width="5" height="11" fill="#000" />
<rect x="919" y="439" width="1" height="37" fill="#000" />
<rect x="917" y="445" width="5" height="22" fill="#000" />
<rect x="918" y="446" width="3" height="20" fill="#fff" />
<rect x="927" y="325" width="1" height="145" fill="#000" />
<rect x="925" y="328" width="5" height="117" fill="#000" />
<rect x="926" y="329" width="3" height="115" fill="#fff" />
<rect x="935" y="314" width="1" height="62" fill="#000" />
<rect x="933" y="314" width="5" height="14" fill="#000" />
<rect x="934" y="315" width="3" height="12" fill="#fff" />
<rect x="943" y="314" width="1" height="36" fill="#000" />
<rect x="941" y="315" width="5" height="20" fill="#000" />
<rect x="951" y="324" width="1" height="65" fill="#000" />
<rect x="949" y="334" width="5" height="46" fill="#000" />
<rect x="959" y="363" width="1" height="30" fill="#000" />
<rect x="957" y="373" width="5" height="7" fill="#000" />
<rect x="958" y="374" width="3" height="5" fill="#fff" />
<rect x="967" y="342" width="1" height="46" fill="#000" />
<rect x="965" y="346" width="5" height="28" fill="#000" />
<rect x="966" y="347" width="3" height="26" fill="#fff" />
<rect x="975" y="324" width="1" height="27" fill="#000" />
<rect x="973" y="332" width="5" height="14" fill="#000" />
<rect x="974" y="333" width="3" height="12" fill="#fff" />
<rect x="983" y="306" width="1" height="34" fill="#000" />
<rect x="981" y="328" width="5" height="3" fill="#000" />
<rect x="982" y="329" width="3" height="1" fill="#fff" />
<rect x="991" y="307" width="1" height="53" fill="#000" />
<rect x="989" y="329" width="5" height="8" fill="#000" />
<rect x="990" y="330" width="3" height="6" fill="#fff" />
<rect x="999" y="318" width="1" height="33" fill="#000" />
<rect x="997" y="329" width="5" height="11" fill="#000" />
<rect x="1007" y="315" width="1" height="29" fill="#000" />
<rect x="1005" y="338" width="5" height="5" fill="#000" />
<rect x="1015" y="322" width="1" height="27" fill="#000" />
<rect x="1013" y="336" width="5" height="7" fill="#000" />
<rect x="1014" y="337" width="3" height="5" fill="#fff" />
<rect x="1023" y="333" width="1" height="60" fill="#000" />
<rect x="1021" y="336" width="5" height="55" fill="#000" />
<rect x="1031" y="370" width="1" height="64" fill="#000" />
<rect x="1029" y="390" width="5" height="44" fill="#000" />
<rect x="1039" y="401" width="1" height="32" fill="#000" />
<rect x="1037" y="401" width="5" height="32" fill="#000" />
<rect x="1038" y="402" width="3" height="30" fill="#fff" />
<rect x="1047" y="372" width="1" height="43" fill="#000" />
<rect x="1045" y="393" width="5" height="7" fill="#000" />
<rect x="1046" y="394" width="3" height="5" fill="#fff" />
<rect x="1055" y="388" width="1" height="28" fill="#000" />
<rect x="1053" y="392" width="5" height="18" fill="#000" />
<rect x="1063" y="404" width="1" height="47" fill="#000" />
<rect x="1061" y="409" width="5" height="33" fill="#000" />
<rect x="1071" y="421" width="1" height="35" fill="#000" />
<rect x="1069" y="441" width="5" height="2" fill="#000" />
<rect x="1079" y="424" width="1" height="33" fill="#000" />
<rect x="1077" y="434" width="5" height="8" fill="#000" />
<rect x="1078" y="435" width="3" height="6" fill="#fff" />
<rect x="1087" y="425" width="1" height="19" fill="#000" />
<rect x="1085" y="434" width="5" height="3" fill="#000" />
<rect x="1095" y="402" width="1" height="42" fill="#000" />
<rect x="1093" y="408" width="5" height="28" fill="#000" />
<rect x="1094" y="409" width="3" height="26" fill="#fff" />
<rect x="1103" y="388" width="1" height="24" fill="#000" />
<rect x="1101" y="391" width="5" height="17" fill="#000" />
<rect x="1102" y="392" width="3" height="15" fill="#fff" />
<rect x="1111" y="372" width="1" height="30" fill="#000" />
<rect x="1109" y="379" width="5" height="13" fill="#000" />
<rect x="1110" y="380" width="3" height="11" fill="#fff" />
<rect x="1119" y="332" width="1" height="48" fill="#000" />
<rect x="1117" y="333" width="5" height="45" fill="#000" />
<rect x="1118" y="334" width="3" height="43" fill="#fff" />
<rect x="1127" y="315" width="1" height="24" fill="#000" />
<rect x="1125" y="330" width="5" height="3" fill="#000" />
<rect x="1126" y="331" width="3" height="1" fill="#fff" />
<rect x="1135" y="329" width="1" height="22" fill="#000" />
<rect x="1133" y="332" width="5" height="8" fill="#000" />
<rect x="1143" y="318" width="1" height="26" fill="#000" />
<rect x="1141" y="325" width="5" height="15" fill="#000" />
<rect x="1142" y="326" width="3" height="13" fill="#fff" />
<rect x="1151" y="308" width="1" height="16" fill="#000" />
<rect x="1149" y="310" width="5" height="14" fill="#000" />
<rect x="1150" y="311" width="3" height="12" fill="#fff" />
<rect x="1159" y="298" width="1" height="23" fill="#000" />
<rect x="1157" y="304" width="5" height="6" fill="#000" />
<rect x="1158" y="305" width="3" height="4" fill="#fff" />
<rect x="1167" y="305" width="1" height="35" fill="#000" />
<rect x="1165" y="305" width="5" height="17" fill="#000" />
<rect x="1175" y="316" width="1" height="39" fill="#000" />
<rect x="1173" y="322" width="5" height="32" fill="#000" />
<rect x="1183" y="342" width="1" height="18" fill="#000" />
<rect x="1181" y="345" width="5" height="9" fill="#000" />
<rect x="1182" y="346" width="3" height="7" fill="#fff" />
<rect x="1191" y="334" width="1" height="43" fill="#000" />
<rect x="1189" y="345" width="5" height="19" fill="#000" />
<rect x="1199" y="337" width="1" height="28" fill="#000" />
<rect x="1197" y="349" width="5" height="15" fill="#000" />
<rect x="1198" y="350" width="3" height="13" fill="#fff" />
<rect x="1207" y="346" width="1" height="24" fill="#000" />
<rect x="1205" y="349" width="5" height="11" fill="#000" />
<rect x="1215" y="347" width="1" height="97" fill="#000" />
<rect x="1213" y="359" width="5" height="81" fill="#000" />
<rect x="1223" y="429" width="1" height="35" fill="#000" />
<rect x="1221" y="439" width="5" height="10" fill="#000" />
<rect x="1231" y="419" width="1" height="21" fill="#000" />
<rect x="1229" y="420" width="5" height="7" fill="#000" />
<rect x="1230" y="421" width="3" height="5" fill="#fff" />
<rect x="1239" y="404" width="1" height="35" fill="#000" />
<rect x="1237" y="421" width="5" height="9" fill="#000" />
<rect x="1247" y="396" width="1" height="38" fill="#000" />
<rect x="1245" y="412" width="5" height="18" fill="#000" />
<rect x="1246" y="413" width="3" height="16" fill="#fff" />
<rect x="1255" y="393" width="1" height="35" fill="#000" />
<rect x="1253" y="403" width="5" height="9" fill="#000" />
<rect x="1254" y="404" width="3" height="7" fill="#fff" />
<rect x="1263" y="352" width="1" height="51" fill="#000" />
<rect x="1261" y="360" width="5" height="43" fill="#000" />
<rect x="1262" y="361" width="3" height="41" fill="#fff" />
<rect x="1271" y="346" width="1" height="32" fill="#000" />
<rect x="1269" y="359" width="5" height="12" fill="#000" />
<rect x="1279" y="360" width="1" height="20" fill="#000" />
<rect x="1277" y="362" width="5" height="9" fill="#000" />
<rect x="1278" y="363" width="3" height="7" fill="#fff" />
<rect x="1287" y="340" width="1" height="27" fill="#000" />
<rect x="1285" y="350" width="5" height="12" fill="#000" />
<rect x="1286" y="351" width="3" height="10" fill="#fff" />
<rect x="1295" y="337" width="1" height="25" fill="#000" />
<rect x="1293" y="349" width="5" height="2" fill="#000" />
<rect x="1303" y="313" width="1" height="47" fill="#000" />
<rect x="1301" y="324" width="5" height="25" fill="#000" />
<rect x="1302" y="325" width="3" height="23" fill="#fff" />
<rect x="1311" y="300" width="1" height="55" fill="#000" />
<rect x="1309" y="323" width="5" height="6" fill="#000" />
<rect x="1319" y="306" width="1" height="27" fill="#000" />
<rect x="1317" y="308" width="5" height="22" fill="#000" />
<rect x="1318" y="309" width="3" height="20" fill="#fff" />
<rect x="1327" y="306" width="1" height="26" fill="#000" />
<rect x="1325" y="308" width="5" height="2" fill="#000" />
<rect x="1335" y="281" width="1" height="29" fill="#000" />
<rect x="1333" y="286" width="5" height="24" fill="#000" />
<rect x="1334" y="287" width="3" height="22" fill="#fff" />
<rect x="1343" y="288" width="1" height="25" fill="#000" />
<rect x="1341" y="288" width="5" height="7" fill="#000" />
<rect x="1342" y="289" width="3" height="5" fill="#fff" />
<rect x="1351" y="279" width="1" height="30" fill="#000" />
<rect x="1349" y="283" width="5" height="5" fill="#000" />
<rect x="1350" y="284" width="3" height="3" fill="#fff" />
<rect x="1359" y="280" width="1" height="55" fill="#000" />
<rect x="1357" y="282" width="5" height="17" fill="#000" />
<rect x="1367" y="285" width="1" height="30" fill="#000" />
<rect x="1365" y="294" width="5" height="4" fill="#000" />
<rect x="1366" y="295" width="3" height="2" fill="#fff" />
<rect x="1375" y="278" width="1" height="24" fill="#000" />
<rect x="1373" y="284" width="5" height="9" fill="#000" />
<rect x="1374" y="285" width="3" height="7" fill="#fff" />
<rect x="1383" y="243" width="1" height="45" fill="#000" />
<rect x="1381" y="246" width="5" height="37" fill="#000" />
<rect x="1382" y="247" width="3" height="35" fill="#fff" />
<rect x="1391" y="246" width="1" height="37" fill="#000" />
<rect x="1389" y="246" width="5" height="36" fill="#000" />
<rect x="1399" y="265" width="1" height="33" fill="#000" />
<rect x="1397" y="279" width="5" height="4" fill="#000" />
<rect x="1398" y="280" width="3" height="2" fill="#fff" />
<rect x="1407" y="243" width="1" height="50" fill="#000" />
<rect x="1405" y="274" width="5" height="5" fill="#000" />
<rect x="1406" y="275" width="3" height="3" fill="#fff" />
<rect x="1415" y="249" width="1" height="30" fill="#000" />
<rect x="1413" y="256" width="5" height="19" fill="#000" />
<rect x="1414" y="257" width="3" height="17" fill="#fff" />
<rect x="1423" y="239" width="1" height="26" fill="#000" />
<rect x="1421" y="245" width="5" height="11" fill="#000" />
<rect x="1422" y="246" width="3" height="9" fill="#fff" />
<rect x="1431" y="202" width="1" height="49" fill="#000" />
<rect x="1429" y="206" width="5" height="38" fill="#000" />
<rect x="1430" y="207" width="3" height="36" fill="#fff" />
<rect x="1439" y="156" width="1" height="54" fill="#000" />
<rect x="1437" y="168" width="5" height="38" fill="#000" />
<rect x="1438" y="169" width="3" height="36" fill="#fff" />
<rect x="1447" y="119" width="1" height="51" fill="#000" />
<rect x="1445" y="143" width="5" height="25" fill="#000" />
<rect x="1446" y="144" width="3" height="23" fill="#fff" />
<rect x="1455" y="128" width="1" height="26" fill="#000" />
<rect x="1453" y="128" width="5" height="16" fill="#000" />
<rect x="1454" y="129" width="3" height="14" fill="#fff" />
<rect x="1463" y="76" width="1" height="56" fill="#000" />
<rect x="1461" y="77" width="5" height="51" fill="#000" />
<rect x="1462" y="78" width="3" height="49" fill="#fff" />
</g>
<g shape-rendering="crispEdges"><rect x="438" y="222" width="9" height="1" fill="#ff0000" /></g><rect x="376.5" y="213.5" width="61" height="18" fill="#fff" stroke="#ff0000" stroke-width="1" shape-rendering="crispEdges"/><text x="378.5" y="228.6" font-size="16.6" fill="#ff0000">116.327</text>
<g shape-rendering="crispEdges"><rect x="902" y="499" width="9" height="1" fill="#ff0000" /></g><rect x="840.5" y="490.5" width="61" height="18" fill="#fff" stroke="#ff0000" stroke-width="1" shape-rendering="crispEdges"/><text x="842.5" y="505.6" font-size="16.6" fill="#ff0000">114.398</text>
<g shape-rendering="crispEdges"><rect x="1214" y="464" width="9" height="1" fill="#ff0000" /></g><rect x="1152.5" y="455.5" width="61" height="18" fill="#fff" stroke="#ff0000" stroke-width="1" shape-rendering="crispEdges"/><text x="1154.5" y="470.6" font-size="16.6" fill="#ff0000">114.638</text>
<g shape-rendering="crispEdges"><rect x="1374" y="243" width="9" height="1" fill="#ff0000" /></g><rect x="1312.5" y="234.5" width="61" height="18" fill="#fff" stroke="#ff0000" stroke-width="1" shape-rendering="crispEdges"/><text x="1314.5" y="249.6" font-size="16.6" fill="#ff0000">116.185</text>
<g shape-rendering="crispEdges"><rect x="1536" y="105" width="10" height="1" fill="#ff0000" /><rect x="1543" y="103" width="3" height="4" fill="#ff0000" /><rect x="1544" y="104" width="1" height="2" fill="#fff" /></g>
<rect x="1546.5" y="93.5" width="73" height="24" fill="#fff" stroke="#ff0000" stroke-width="1" shape-rendering="crispEdges"/>
<text transform="translate(1548.2 113.7) scale(1 1.08)" font-size="19.9" fill="#ff0000">117.148</text>
<polygon points="1444,24 1455,24 1449.5,29" fill="#b0b0b0"/>
<g shape-rendering="crispEdges">
<rect x="0" y="23" width="1651" height="1" fill="#000" />
<rect x="1650" y="23" width="1" height="902" fill="#000" />
<rect x="0" y="576" width="1651" height="1" fill="#000" />
<rect x="0" y="578" width="1651" height="1" fill="#000" />
<rect x="0" y="748" width="1651" height="1" fill="#000" />
<rect x="0" y="750" width="1651" height="1" fill="#000" />
<rect x="0" y="924" width="1651" height="1" fill="#000" />
<rect x="0" y="577" width="1650" height="1" fill="#fff" />
<rect x="0" y="749" width="1650" height="1" fill="#fff" />
<rect x="1651" y="45" width="2" height="1" fill="#000" />
<rect x="1651" y="78" width="2" height="1" fill="#000" />
<rect x="1651" y="111" width="2" height="1" fill="#000" />
<rect x="1651" y="144" width="2" height="1" fill="#000" />
<rect x="1651" y="177" width="2" height="1" fill="#000" />
<rect x="1651" y="210" width="2" height="1" fill="#000" />
<rect x="1651" y="243" width="2" height="1" fill="#000" />
<rect x="1651" y="276" width="2" height="1" fill="#000" />
<rect x="1651" y="309" width="2" height="1" fill="#000" />
<rect x="1651" y="342" width="2" height="1" fill="#000" />
<rect x="1651" y="375" width="2" height="1" fill="#000" />
<rect x="1651" y="408" width="2" height="1" fill="#000" />
<rect x="1651" y="441" width="2" height="1" fill="#000" />
<rect x="1651" y="474" width="2" height="1" fill="#000" />
<rect x="1651" y="507" width="2" height="1" fill="#000" />
<rect x="1651" y="540" width="2" height="1" fill="#000" />
<rect x="1651" y="573" width="2" height="1" fill="#000" />
<rect x="1651" y="580" width="2" height="1" fill="#000" />
<rect x="1651" y="691" width="2" height="1" fill="#000" />
<rect x="1651" y="786" width="2" height="1" fill="#000" />
<rect x="1651" y="837" width="2" height="1" fill="#000" />
<rect x="1651" y="898" width="2" height="1" fill="#000" />
</g>
<text transform="translate(1656.3 49.0) scale(1 1.07)" font-size="9.2" fill="#000" >117.565</text>
<text transform="translate(1656.3 82.0) scale(1 1.07)" font-size="9.2" fill="#000" >117.335</text>
<text transform="translate(1656.3 115.0) scale(1 1.07)" font-size="9.2" fill="#000" >117.105</text>
<text transform="translate(1656.3 148.0) scale(1 1.07)" font-size="9.2" fill="#000" >116.875</text>
<text transform="translate(1656.3 181.0) scale(1 1.07)" font-size="9.2" fill="#000" >116.645</text>
<text transform="translate(1656.3 214.0) scale(1 1.07)" font-size="9.2" fill="#000" >116.415</text>
<text transform="translate(1656.3 247.0) scale(1 1.07)" font-size="9.2" fill="#000" >116.180</text>
<text transform="translate(1656.3 280.0) scale(1 1.07)" font-size="9.2" fill="#000" >115.950</text>
<text transform="translate(1656.3 313.0) scale(1 1.07)" font-size="9.2" fill="#000" >115.720</text>
<text transform="translate(1656.3 346.0) scale(1 1.07)" font-size="9.2" fill="#000" >115.490</text>
<text transform="translate(1656.3 379.0) scale(1 1.07)" font-size="9.2" fill="#000" >115.260</text>
<text transform="translate(1656.3 412.0) scale(1 1.07)" font-size="9.2" fill="#000" >115.030</text>
<text transform="translate(1656.3 445.0) scale(1 1.07)" font-size="9.2" fill="#000" >114.800</text>
<text transform="translate(1656.3 478.0) scale(1 1.07)" font-size="9.2" fill="#000" >114.570</text>
<text transform="translate(1656.3 511.0) scale(1 1.07)" font-size="9.2" fill="#000" >114.340</text>
<text transform="translate(1656.3 544.0) scale(1 1.07)" font-size="9.2" fill="#000" >114.105</text>
<text transform="translate(1656.3 577.0) scale(1 1.07)" font-size="9.2" fill="#000" >113.875</text>
<text transform="translate(1654.3 588.8) scale(1 1.07)" font-size="9.2" fill="#000" >0.428</text>
<text transform="translate(1654.3 695) scale(1 1.07)" font-size="9.2" fill="#000" >0.00</text>
<text transform="translate(1654.3 745) scale(1 1.07)" font-size="9.2" fill="#000" >-0.2165</text>
<text transform="translate(1654.3 761.2) scale(1 1.07)" font-size="9.2" fill="#000" >100</text>
<text transform="translate(1654.3 789.9) scale(1 1.07)" font-size="9.2" fill="#000" >80</text>
<text transform="translate(1654.3 841.4) scale(1 1.07)" font-size="9.2" fill="#000" >50</text>
<text transform="translate(1654.3 902.4) scale(1 1.07)" font-size="9.2" fill="#000" >15</text>
<text transform="translate(1654.3 921.4) scale(1 1.07)" font-size="9.2" fill="#000" >0</text>
<g shape-rendering="crispEdges"><rect x="1645" y="26" width="5" height="5" fill="#ff0000" /><rect x="1646" y="27" width="3" height="3" fill="#fff" /><rect x="1652" y="22" width="41" height="11" fill="#ff0000" /></g><text transform="translate(1656.4 31.0) scale(1 1.07)" font-size="9.2" fill="#fff" >117.682</text>
<g shape-rendering="crispEdges"><rect x="1645" y="50" width="5" height="5" fill="#ff0000" /><rect x="1646" y="51" width="3" height="3" fill="#fff" /><rect x="1652" y="46" width="41" height="11" fill="#ff0000" /></g><text transform="translate(1656.4 55.0) scale(1 1.07)" font-size="9.2" fill="#fff" >117.516</text>
<g shape-rendering="crispEdges"><rect x="1652" y="71" width="41" height="11" fill="#000" /></g><text transform="translate(1656.4 80.0) scale(1 1.07)" font-size="9.2" fill="#fff" >117.345</text>
<g shape-rendering="crispEdges"><rect x="1645" y="103" width="5" height="5" fill="#32cd32" /><rect x="1646" y="104" width="3" height="3" fill="#fff" /><rect x="1652" y="99" width="41" height="11" fill="#32cd32" /></g><text transform="translate(1656.4 108.0) scale(1 1.07)" font-size="9.2" fill="#fff" >117.148</text>
<g shape-rendering="crispEdges"><rect x="1645" y="131" width="5" height="5" fill="#0000ff" /><rect x="1646" y="132" width="3" height="3" fill="#fff" /><rect x="1652" y="127" width="41" height="11" fill="#0000ff" /></g><text transform="translate(1656.4 136.0) scale(1 1.07)" font-size="9.2" fill="#fff" >116.954</text>
<g shape-rendering="crispEdges"><rect x="1645" y="160" width="5" height="5" fill="#0000ff" /><rect x="1646" y="161" width="3" height="3" fill="#fff" /><rect x="1652" y="156" width="41" height="11" fill="#0000ff" /></g><text transform="translate(1656.4 165.0) scale(1 1.07)" font-size="9.2" fill="#fff" >116.748</text>
<g shape-rendering="crispEdges">
<rect x="7" y="590" width="1" height="102" fill="#c0c0c0" />
<rect x="15" y="594" width="1" height="98" fill="#c0c0c0" />
<rect x="23" y="600" width="1" height="92" fill="#c0c0c0" />
<rect x="31" y="604" width="1" height="88" fill="#c0c0c0" />
<rect x="39" y="603" width="1" height="89" fill="#c0c0c0" />
<rect x="47" y="605" width="1" height="87" fill="#c0c0c0" />
<rect x="55" y="606" width="1" height="86" fill="#c0c0c0" />
<rect x="63" y="614" width="1" height="78" fill="#c0c0c0" />
<rect x="71" y="625" width="1" height="67" fill="#c0c0c0" />
<rect x="79" y="633" width="1" height="59" fill="#c0c0c0" />
<rect x="87" y="642" width="1" height="50" fill="#c0c0c0" />
<rect x="95" y="651" width="1" height="41" fill="#c0c0c0" />
<rect x="103" y="665" width="1" height="27" fill="#c0c0c0" />
<rect x="111" y="672" width="1" height="20" fill="#c0c0c0" />
<rect x="119" y="681" width="1" height="11" fill="#c0c0c0" />
<rect x="127" y="686" width="1" height="6" fill="#c0c0c0" />
<rect x="135" y="690" width="1" height="2" fill="#c0c0c0" />
<rect x="143" y="691" width="1" height="4" fill="#c0c0c0" />
<rect x="151" y="691" width="1" height="15" fill="#c0c0c0" />
<rect x="159" y="691" width="1" height="22" fill="#c0c0c0" />
<rect x="167" y="691" width="1" height="28" fill="#c0c0c0" />
<rect x="175" y="691" width="1" height="32" fill="#c0c0c0" />
<rect x="183" y="691" width="1" height="34" fill="#c0c0c0" />
<rect x="191" y="691" width="1" height="31" fill="#c0c0c0" />
<rect x="199" y="691" width="1" height="24" fill="#c0c0c0" />
<rect x="207" y="691" width="1" height="17" fill="#c0c0c0" />
<rect x="215" y="691" width="1" height="10" fill="#c0c0c0" />
<rect x="223" y="691" width="1" height="4" fill="#c0c0c0" />
<rect x="231" y="691" width="1" height="1" fill="#c0c0c0" />
<rect x="239" y="686" width="1" height="6" fill="#c0c0c0" />
<rect x="247" y="685" width="1" height="7" fill="#c0c0c0" />
<rect x="255" y="677" width="1" height="15" fill="#c0c0c0" />
<rect x="263" y="670" width="1" height="22" fill="#c0c0c0" />
<rect x="271" y="666" width="1" height="26" fill="#c0c0c0" />
<rect x="279" y="662" width="1" height="30" fill="#c0c0c0" />
<rect x="287" y="660" width="1" height="32" fill="#c0c0c0" />
<rect x="295" y="665" width="1" height="27" fill="#c0c0c0" />
<rect x="303" y="667" width="1" height="25" fill="#c0c0c0" />
<rect x="311" y="669" width="1" height="23" fill="#c0c0c0" />
<rect x="319" y="670" width="1" height="22" fill="#c0c0c0" />
<rect x="327" y="666" width="1" height="26" fill="#c0c0c0" />
<rect x="335" y="660" width="1" height="32" fill="#c0c0c0" />
<rect x="343" y="659" width="1" height="33" fill="#c0c0c0" />
<rect x="351" y="653" width="1" height="39" fill="#c0c0c0" />
<rect x="359" y="650" width="1" height="42" fill="#c0c0c0" />
<rect x="367" y="648" width="1" height="44" fill="#c0c0c0" />
<rect x="375" y="650" width="1" height="42" fill="#c0c0c0" />
<rect x="383" y="652" width="1" height="40" fill="#c0c0c0" />
<rect x="391" y="653" width="1" height="39" fill="#c0c0c0" />
<rect x="399" y="654" width="1" height="38" fill="#c0c0c0" />
<rect x="407" y="655" width="1" height="37" fill="#c0c0c0" />
<rect x="415" y="653" width="1" height="39" fill="#c0c0c0" />
<rect x="423" y="653" width="1" height="39" fill="#c0c0c0" />
<rect x="431" y="653" width="1" height="39" fill="#c0c0c0" />
<rect x="439" y="649" width="1" height="43" fill="#c0c0c0" />
<rect x="447" y="643" width="1" height="49" fill="#c0c0c0" />
<rect x="455" y="640" width="1" height="52" fill="#c0c0c0" />
<rect x="463" y="635" width="1" height="57" fill="#c0c0c0" />
<rect x="471" y="630" width="1" height="62" fill="#c0c0c0" />
<rect x="479" y="630" width="1" height="62" fill="#c0c0c0" />
<rect x="487" y="630" width="1" height="62" fill="#c0c0c0" />
<rect x="495" y="634" width="1" height="58" fill="#c0c0c0" />
<rect x="503" y="651" width="1" height="41" fill="#c0c0c0" />
<rect x="511" y="657" width="1" height="35" fill="#c0c0c0" />
<rect x="519" y="664" width="1" height="28" fill="#c0c0c0" />
<rect x="527" y="672" width="1" height="20" fill="#c0c0c0" />
<rect x="535" y="684" width="1" height="8" fill="#c0c0c0" />
<rect x="543" y="684" width="1" height="8" fill="#c0c0c0" />
<rect x="551" y="683" width="1" height="9" fill="#c0c0c0" />
<rect x="559" y="685" width="1" height="7" fill="#c0c0c0" />
<rect x="567" y="688" width="1" height="4" fill="#c0c0c0" />
<rect x="575" y="691" width="1" height="1" fill="#c0c0c0" />
<rect x="583" y="690" width="1" height="2" fill="#c0c0c0" />
<rect x="591" y="686" width="1" height="6" fill="#c0c0c0" />
<rect x="599" y="686" width="1" height="6" fill="#c0c0c0" />
<rect x="607" y="685" width="1" height="7" fill="#c0c0c0" />
<rect x="615" y="683" width="1" height="9" fill="#c0c0c0" />
<rect x="623" y="683" width="1" height="9" fill="#c0c0c0" />
<rect x="631" y="683" width="1" height="9" fill="#c0c0c0" />
<rect x="639" y="687" width="1" height="5" fill="#c0c0c0" />
<rect x="655" y="691" width="1" height="3" fill="#c0c0c0" />
<rect x="663" y="691" width="1" height="11" fill="#c0c0c0" />
<rect x="671" y="691" width="1" height="14" fill="#c0c0c0" />
<rect x="679" y="691" width="1" height="21" fill="#c0c0c0" />
<rect x="687" y="691" width="1" height="28" fill="#c0c0c0" />
<rect x="695" y="691" width="1" height="35" fill="#c0c0c0" />
<rect x="703" y="691" width="1" height="41" fill="#c0c0c0" />
<rect x="711" y="691" width="1" height="39" fill="#c0c0c0" />
<rect x="719" y="691" width="1" height="38" fill="#c0c0c0" />
<rect x="727" y="691" width="1" height="35" fill="#c0c0c0" />
<rect x="735" y="691" width="1" height="33" fill="#c0c0c0" />
<rect x="743" y="691" width="1" height="33" fill="#c0c0c0" />
<rect x="751" y="691" width="1" height="34" fill="#c0c0c0" />
<rect x="759" y="691" width="1" height="35" fill="#c0c0c0" />
<rect x="767" y="691" width="1" height="36" fill="#c0c0c0" />
<rect x="775" y="691" width="1" height="38" fill="#c0c0c0" />
<rect x="783" y="691" width="1" height="39" fill="#c0c0c0" />
<rect x="791" y="691" width="1" height="41" fill="#c0c0c0" />
<rect x="799" y="691" width="1" height="46" fill="#c0c0c0" />
<rect x="807" y="691" width="1" height="49" fill="#c0c0c0" />
<rect x="815" y="691" width="1" height="48" fill="#c0c0c0" />
<rect x="823" y="691" width="1" height="40" fill="#c0c0c0" />
<rect x="831" y="691" width="1" height="33" fill="#c0c0c0" />
<rect x="839" y="691" width="1" height="28" fill="#c0c0c0" />
<rect x="847" y="691" width="1" height="22" fill="#c0c0c0" />
<rect x="855" y="691" width="1" height="19" fill="#c0c0c0" />
<rect x="863" y="691" width="1" height="16" fill="#c0c0c0" />
<rect x="871" y="691" width="1" height="12" fill="#c0c0c0" />
<rect x="879" y="691" width="1" height="11" fill="#c0c0c0" />
<rect x="887" y="691" width="1" height="11" fill="#c0c0c0" />
<rect x="895" y="691" width="1" height="12" fill="#c0c0c0" />
<rect x="903" y="691" width="1" height="16" fill="#c0c0c0" />
<rect x="911" y="691" width="1" height="23" fill="#c0c0c0" />
<rect x="919" y="691" width="1" height="23" fill="#c0c0c0" />
<rect x="927" y="691" width="1" height="5" fill="#c0c0c0" />
<rect x="935" y="683" width="1" height="9" fill="#c0c0c0" />
<rect x="943" y="674" width="1" height="18" fill="#c0c0c0" />
<rect x="951" y="674" width="1" height="18" fill="#c0c0c0" />
<rect x="959" y="673" width="1" height="19" fill="#c0c0c0" />
<rect x="967" y="669" width="1" height="23" fill="#c0c0c0" />
<rect x="975" y="664" width="1" height="28" fill="#c0c0c0" />
<rect x="983" y="659" width="1" height="33" fill="#c0c0c0" />
<rect x="991" y="656" width="1" height="36" fill="#c0c0c0" />
<rect x="999" y="656" width="1" height="36" fill="#c0c0c0" />
<rect x="1007" y="657" width="1" height="35" fill="#c0c0c0" />
<rect x="1015" y="657" width="1" height="35" fill="#c0c0c0" />
<rect x="1023" y="665" width="1" height="27" fill="#c0c0c0" />
<rect x="1031" y="678" width="1" height="14" fill="#c0c0c0" />
<rect x="1039" y="683" width="1" height="9" fill="#c0c0c0" />
<rect x="1047" y="687" width="1" height="5" fill="#c0c0c0" />
<rect x="1063" y="691" width="1" height="8" fill="#c0c0c0" />
<rect x="1071" y="691" width="1" height="15" fill="#c0c0c0" />
<rect x="1079" y="691" width="1" height="19" fill="#c0c0c0" />
<rect x="1087" y="691" width="1" height="22" fill="#c0c0c0" />
<rect x="1095" y="691" width="1" height="21" fill="#c0c0c0" />
<rect x="1103" y="691" width="1" height="17" fill="#c0c0c0" />
<rect x="1111" y="691" width="1" height="11" fill="#c0c0c0" />
<rect x="1127" y="684" width="1" height="8" fill="#c0c0c0" />
<rect x="1135" y="678" width="1" height="14" fill="#c0c0c0" />
<rect x="1143" y="672" width="1" height="20" fill="#c0c0c0" />
<rect x="1151" y="665" width="1" height="27" fill="#c0c0c0" />
<rect x="1159" y="659" width="1" height="33" fill="#c0c0c0" />
<rect x="1167" y="657" width="1" height="35" fill="#c0c0c0" />
<rect x="1175" y="661" width="1" height="31" fill="#c0c0c0" />
<rect x="1183" y="663" width="1" height="29" fill="#c0c0c0" />
<rect x="1191" y="667" width="1" height="25" fill="#c0c0c0" />
<rect x="1199" y="669" width="1" height="23" fill="#c0c0c0" />
<rect x="1207" y="672" width="1" height="20" fill="#c0c0c0" />
<rect x="1215" y="687" width="1" height="5" fill="#c0c0c0" />
<rect x="1223" y="691" width="1" height="7" fill="#c0c0c0" />
<rect x="1231" y="691" width="1" height="13" fill="#c0c0c0" />
<rect x="1239" y="691" width="1" height="19" fill="#c0c0c0" />
<rect x="1247" y="691" width="1" height="20" fill="#c0c0c0" />
<rect x="1255" y="691" width="1" height="20" fill="#c0c0c0" />
<rect x="1263" y="691" width="1" height="13" fill="#c0c0c0" />
<rect x="1271" y="691" width="1" height="8" fill="#c0c0c0" />
<rect x="1279" y="691" width="1" height="5" fill="#c0c0c0" />
<rect x="1295" y="688" width="1" height="4" fill="#c0c0c0" />
<rect x="1303" y="681" width="1" height="11" fill="#c0c0c0" />
<rect x="1311" y="676" width="1" height="16" fill="#c0c0c0" />
<rect x="1319" y="670" width="1" height="22" fill="#c0c0c0" />
<rect x="1327" y="665" width="1" height="27" fill="#c0c0c0" />
<rect x="1335" y="660" width="1" height="32" fill="#c0c0c0" />
<rect x="1343" y="655" width="1" height="37" fill="#c0c0c0" />
<rect x="1351" y="651" width="1" height="41" fill="#c0c0c0" />
<rect x="1359" y="650" width="1" height="42" fill="#c0c0c0" />
<rect x="1367" y="650" width="1" height="42" fill="#c0c0c0" />
<rect x="1375" y="648" width="1" height="44" fill="#c0c0c0" />
<rect x="1383" y="642" width="1" height="50" fill="#c0c0c0" />
<rect x="1391" y="643" width="1" height="49" fill="#c0c0c0" />
<rect x="1399" y="644" width="1" height="48" fill="#c0c0c0" />
<rect x="1407" y="645" width="1" height="47" fill="#c0c0c0" />
<rect x="1415" y="643" width="1" height="49" fill="#c0c0c0" />
<rect x="1423" y="639" width="1" height="53" fill="#c0c0c0" />
<rect x="1431" y="634" width="1" height="58" fill="#c0c0c0" />
<rect x="1439" y="625" width="1" height="67" fill="#c0c0c0" />
<rect x="1447" y="616" width="1" height="76" fill="#c0c0c0" />
<rect x="1455" y="604" width="1" height="88" fill="#c0c0c0" />
<rect x="1463" y="589" width="1" height="103" fill="#c0c0c0" />
</g>
<path d="M5.5 622v2M46 599.5h3M52 599.5h3M58 599.5h2M40 600.5h3M60 600.5h1M64 600.5h1M36 601.5h1M65 601.5h2M34 602.5h2M30 603.5h1M70 603.5h2M28 604.5h2M72 604.5h1M23 606.5h2M76 606.5h1M22 607.5h1M77 607.5h2M18 610.5h1M82 610.5h2M17 611.5h1M84 611.5h1M16 612.5h1M88 614.5h2M90 615.5h1M12 616.5h1M10 617.5h2M94 618.5h1M95 619.5h1M96 620.5h1M6 621.5h1M100 623.5h1M101 624.5h1M102 625.5h1M2 627.5h1M1461 627.5h1M1 628.5h1M1460 628.5h1M0 629.5h1M106 629.5h2M1459 629.5h1M108 630.5h1M1455 631.5h1M1453 632.5h2M112 634.5h1M1449 634.5h1M113 635.5h1M1447 635.5h2M114 636.5h1M494 637.5h2M499 637.5h3M505 637.5h3M1443 637.5h1M493 638.5h1M511 638.5h3M1441 638.5h2M489 639.5h1M517 639.5h1M118 640.5h1M487 640.5h2M518 640.5h2M1436 640.5h2M119 641.5h1M482 641.5h2M1435 641.5h1M120 642.5h1M481 642.5h1M523 642.5h2M1429 642.5h3M476 643.5h2M525 643.5h1M1423 643.5h3M475 644.5h1M1417 644.5h3M469 645.5h3M529 645.5h1M1412 645.5h2M123 646.5h1M463 646.5h3M530 646.5h2M1411 646.5h1M124 647.5h1M1406 647.5h2M125 648.5h1M457 648.5h3M1405 648.5h1M535 649.5h1M1399 649.5h3M451 650.5h3M536 650.5h2M1394 650.5h2M404 651.5h2M409 651.5h3M415 651.5h3M421 651.5h3M427 651.5h3M433 651.5h3M439 651.5h3M445 651.5h3M1393 651.5h1M129 652.5h1M397 652.5h3M403 652.5h1M1388 652.5h2M130 653.5h1M391 653.5h3M541 653.5h1M1387 653.5h1M131 654.5h1M386 654.5h2M542 654.5h1M1382 654.5h2M385 655.5h1M543 655.5h1M1381 655.5h1M379 656.5h3M1377 656.5h1M374 657.5h2M1375 657.5h2M134 658.5h1M373 658.5h1M547 658.5h1M135 659.5h1M367 659.5h3M548 659.5h2M1371 659.5h1M136 660.5h1M362 660.5h2M1369 660.5h2M356 661.5h2M361 661.5h1M1021 661.5h3M1027 661.5h3M1033 661.5h3M349 662.5h3M355 662.5h1M553 662.5h1M1015 662.5h3M1039 662.5h2M1365 662.5h1M343 663.5h3M554 663.5h1M1010 663.5h2M1041 663.5h1M1363 663.5h2M140 664.5h1M332 664.5h2M337 664.5h3M555 664.5h1M1009 664.5h1M1045 664.5h1M1207 664.5h3M141 665.5h1M325 665.5h3M331 665.5h1M1004 665.5h2M1046 665.5h2M1196 665.5h2M1201 665.5h3M1213 665.5h1M1359 665.5h1M142 666.5h1M319 666.5h3M1003 666.5h1M1051 666.5h1M1190 666.5h2M1195 666.5h1M1214 666.5h2M1358 666.5h1M314 667.5h2M559 667.5h1M999 667.5h1M1052 667.5h2M1189 667.5h1M1219 667.5h1M1357 667.5h1M313 668.5h1M560 668.5h2M997 668.5h2M1185 668.5h1M1220 668.5h2M307 669.5h3M1057 669.5h1M1183 669.5h2M146 670.5h1M302 670.5h2M1058 670.5h1M1225 670.5h1M1352 670.5h2M147 671.5h1M301 671.5h1M565 671.5h1M992 671.5h2M1059 671.5h1M1226 671.5h1M1351 671.5h1M148 672.5h1M297 672.5h1M566 672.5h1M991 672.5h1M1178 672.5h2M1227 672.5h1M295 673.5h2M567 673.5h1M1177 673.5h1M1347 673.5h1M1063 674.5h1M1345 674.5h2M289 675.5h3M571 675.5h1M987 675.5h1M1064 675.5h2M1173 675.5h1M1231 675.5h1M152 676.5h1M572 676.5h1M986 676.5h1M1172 676.5h1M1232 676.5h2M1341 676.5h1M153 677.5h1M285 677.5h1M573 677.5h1M985 677.5h1M1171 677.5h1M1339 677.5h2M154 678.5h1M284 678.5h1M1069 678.5h1M283 679.5h1M577 679.5h3M981 679.5h1M1070 679.5h1M1167 679.5h1M1237 679.5h1M1335 679.5h1M980 680.5h1M1071 680.5h1M1165 680.5h2M1238 680.5h1M1334 680.5h1M279 681.5h1M583 681.5h2M979 681.5h1M1239 681.5h1M1333 681.5h1M158 682.5h1M278 682.5h1M585 682.5h1M159 683.5h1M277 683.5h1M589 683.5h1M975 683.5h1M1075 683.5h1M1160 683.5h2M1243 683.5h1M160 684.5h1M590 684.5h2M595 684.5h1M974 684.5h1M1076 684.5h2M1159 684.5h1M1244 684.5h1M1329 684.5h1M596 685.5h2M601 685.5h3M631 685.5h3M637 685.5h3M643 685.5h3M649 685.5h3M973 685.5h1M1245 685.5h1M1328 685.5h1M272 686.5h2M607 686.5h3M613 686.5h3M619 686.5h3M625 686.5h3M655 686.5h3M1327 686.5h1M271 687.5h1M661 687.5h3M1081 687.5h1M1249 687.5h1M163 688.5h1M667 688.5h1M968 688.5h2M1082 688.5h1M1155 688.5h1M1250 688.5h2M1323 688.5h1M164 689.5h1M668 689.5h2M967 689.5h1M1083 689.5h1M1154 689.5h1M1321 689.5h2M165 690.5h1M266 690.5h2M1153 690.5h1M265 691.5h1M673 691.5h3M963 691.5h1M1255 691.5h1M1317 691.5h1M961 692.5h2M1087 692.5h1M1256 692.5h2M1316 692.5h1M169 693.5h1M679 693.5h2M1088 693.5h2M1149 693.5h1M1315 693.5h1M170 694.5h1M260 694.5h2M681 694.5h1M957 694.5h1M1147 694.5h2M171 695.5h1M259 695.5h1M955 695.5h2M1261 695.5h2M1311 695.5h1M685 696.5h2M1093 696.5h2M1143 696.5h1M1263 696.5h1M1309 696.5h2M687 697.5h1M950 697.5h2M1095 697.5h1M1141 697.5h2M1267 697.5h1M175 698.5h1M255 698.5h1M949 698.5h1M1268 698.5h2M1305 698.5h1M176 699.5h2M253 699.5h2M691 699.5h1M945 699.5h1M1099 699.5h2M1273 699.5h1M1303 699.5h2M692 700.5h1M943 700.5h2M1101 700.5h1M1136 700.5h2M1274 700.5h2M693 701.5h1M1105 701.5h3M1135 701.5h1M1279 701.5h3M1297 701.5h3M181 702.5h1M248 702.5h2M937 702.5h3M1111 702.5h3M1130 702.5h2M1285 702.5h1M1292 702.5h2M182 703.5h1M247 703.5h1M697 703.5h1M1117 703.5h1M1124 703.5h2M1129 703.5h1M1286 703.5h2M1291 703.5h1M183 704.5h1M698 704.5h2M932 704.5h2M1118 704.5h2M1123 704.5h1M243 705.5h1M931 705.5h1M187 706.5h1M241 706.5h2M925 706.5h3M188 707.5h1M703 707.5h1M901 707.5h3M907 707.5h3M913 707.5h3M919 707.5h3M189 708.5h1M236 708.5h2M704 708.5h2M895 708.5h3M235 709.5h1M193 710.5h3M230 710.5h2M889 710.5h3M229 711.5h1M709 711.5h2M199 712.5h3M225 712.5h1M711 712.5h1M885 712.5h1M205 713.5h1M223 713.5h2M883 713.5h2M206 714.5h2M211 714.5h1M218 714.5h2M715 714.5h2M212 715.5h2M217 715.5h1M717 715.5h1M879 715.5h1M878 716.5h1M721 717.5h2M877 717.5h1M723 718.5h1M727 720.5h2M872 720.5h2M729 721.5h1M871 721.5h1M733 722.5h1M734 723.5h2M865 723.5h3M739 724.5h3M745 725.5h3M860 725.5h2M751 726.5h3M859 726.5h1M757 727.5h3M763 727.5h3M769 727.5h3M775 727.5h3M781 727.5h3M787 727.5h3M793 727.5h1M854 727.5h2M794 728.5h2M853 728.5h1M799 729.5h3M847 729.5h3M805 730.5h3M842 730.5h2M811 731.5h3M836 731.5h2M841 731.5h1M817 732.5h3M823 732.5h3M829 732.5h3M835 732.5h1" stroke="#ff0000" stroke-width="1" fill="none" shape-rendering="crispEdges"/>
<path d="M-2 786.5h3M4 786.5h3M10 786.5h3M16 786.5h3M22 786.5h3M28 786.5h3M34 786.5h3M40 786.5h3M46 786.5h3M52 786.5h3M58 786.5h3M64 786.5h3M70 786.5h3M76 786.5h3M82 786.5h3M88 786.5h3M94 786.5h3M100 786.5h3M106 786.5h3M112 786.5h3M118 786.5h3M124 786.5h3M130 786.5h3M136 786.5h3M142 786.5h3M148 786.5h3M154 786.5h3M160 786.5h3M166 786.5h3M172 786.5h3M178 786.5h3M184 786.5h3M190 786.5h3M196 786.5h3M202 786.5h3M208 786.5h3M214 786.5h3M220 786.5h3M226 786.5h3M232 786.5h3M238 786.5h3M244 786.5h3M250 786.5h3M256 786.5h3M262 786.5h3M268 786.5h3M274 786.5h3M280 786.5h3M286 786.5h3M292 786.5h3M298 786.5h3M304 786.5h3M310 786.5h3M316 786.5h3M322 786.5h3M328 786.5h3M334 786.5h3M340 786.5h3M346 786.5h3M352 786.5h3M358 786.5h3M364 786.5h3M370 786.5h3M376 786.5h3M382 786.5h3M388 786.5h3M394 786.5h3M400 786.5h3M406 786.5h3M412 786.5h3M418 786.5h3M424 786.5h3M430 786.5h3M436 786.5h3M442 786.5h3M448 786.5h3M454 786.5h3M460 786.5h3M466 786.5h3M472 786.5h3M478 786.5h3M484 786.5h3M490 786.5h3M496 786.5h3M502 786.5h3M508 786.5h3M514 786.5h3M520 786.5h3M526 786.5h3M532 786.5h3M538 786.5h3M544 786.5h3M550 786.5h3M556 786.5h3M562 786.5h3M568 786.5h3M574 786.5h3M580 786.5h3M586 786.5h3M592 786.5h3M598 786.5h3M604 786.5h3M610 786.5h3M616 786.5h3M622 786.5h3M628 786.5h3M634 786.5h3M640 786.5h3M646 786.5h3M652 786.5h3M658 786.5h3M664 786.5h3M670 786.5h3M676 786.5h3M682 786.5h3M688 786.5h3M694 786.5h3M700 786.5h3M706 786.5h3M712 786.5h3M718 786.5h3M724 786.5h3M730 786.5h3M736 786.5h3M742 786.5h3M748 786.5h3M754 786.5h3M760 786.5h3M766 786.5h3M772 786.5h3M778 786.5h3M784 786.5h3M790 786.5h3M796 786.5h3M802 786.5h3M808 786.5h3M814 786.5h3M820 786.5h3M826 786.5h3M832 786.5h3M838 786.5h3M844 786.5h3M850 786.5h3M856 786.5h3M862 786.5h3M868 786.5h3M874 786.5h3M880 786.5h3M886 786.5h3M892 786.5h3M898 786.5h3M904 786.5h3M910 786.5h3M916 786.5h3M922 786.5h3M928 786.5h3M934 786.5h3M940 786.5h3M946 786.5h3M952 786.5h3M958 786.5h3M964 786.5h3M970 786.5h3M976 786.5h3M982 786.5h3M988 786.5h3M994 786.5h3M1000 786.5h3M1006 786.5h3M1012 786.5h3M1018 786.5h3M1024 786.5h3M1030 786.5h3M1036 786.5h3M1042 786.5h3M1048 786.5h3M1054 786.5h3M1060 786.5h3M1066 786.5h3M1072 786.5h3M1078 786.5h3M1084 786.5h3M1090 786.5h3M1096 786.5h3M1102 786.5h3M1108 786.5h3M1114 786.5h3M1120 786.5h3M1126 786.5h3M1132 786.5h3M1138 786.5h3M1144 786.5h3M1150 786.5h3M1156 786.5h3M1162 786.5h3M1168 786.5h3M1174 786.5h3M1180 786.5h3M1186 786.5h3M1192 786.5h3M1198 786.5h3M1204 786.5h3M1210 786.5h3M1216 786.5h3M1222 786.5h3M1228 786.5h3M1234 786.5h3M1240 786.5h3M1246 786.5h3M1252 786.5h3M1258 786.5h3M1264 786.5h3M1270 786.5h3M1276 786.5h3M1282 786.5h3M1288 786.5h3M1294 786.5h3M1300 786.5h3M1306 786.5h3M1312 786.5h3M1318 786.5h3M1324 786.5h3M1330 786.5h3M1336 786.5h3M1342 786.5h3M1348 786.5h3M1354 786.5h3M1360 786.5h3M1366 786.5h3M1372 786.5h3M1378 786.5h3M1384 786.5h3M1390 786.5h3M1396 786.5h3M1402 786.5h3M1408 786.5h3M1414 786.5h3M1420 786.5h3M1426 786.5h3M1432 786.5h3M1438 786.5h3M1444 786.5h3M1450 786.5h3M1456 786.5h3M1462 786.5h3M1468 786.5h3M1474 786.5h3M1480 786.5h3M1486 786.5h3M1492 786.5h3M1498 786.5h3M1504 786.5h3M1510 786.5h3M1516 786.5h3M1522 786.5h3M1528 786.5h3M1534 786.5h3M1540 786.5h3M1546 786.5h3M1552 786.5h3M1558 786.5h3M1564 786.5h3M1570 786.5h3M1576 786.5h3M1582 786.5h3M1588 786.5h3M1594 786.5h3M1600 786.5h3M1606 786.5h3M1612 786.5h3M1618 786.5h3M1624 786.5h3M1630 786.5h3M1636 786.5h3M1642 786.5h3M1648 786.5h2M-2 837.5h3M4 837.5h3M10 837.5h3M16 837.5h3M22 837.5h3M28 837.5h3M34 837.5h3M40 837.5h3M46 837.5h3M52 837.5h3M58 837.5h3M64 837.5h3M70 837.5h3M76 837.5h3M82 837.5h3M88 837.5h3M94 837.5h3M100 837.5h3M106 837.5h3M112 837.5h3M118 837.5h3M124 837.5h3M130 837.5h3M136 837.5h3M142 837.5h3M148 837.5h3M154 837.5h3M160 837.5h3M166 837.5h3M172 837.5h3M178 837.5h3M184 837.5h3M190 837.5h3M196 837.5h3M202 837.5h3M208 837.5h3M214 837.5h3M220 837.5h3M226 837.5h3M232 837.5h3M238 837.5h3M244 837.5h3M250 837.5h3M256 837.5h3M262 837.5h3M268 837.5h3M274 837.5h3M280 837.5h3M286 837.5h3M292 837.5h3M298 837.5h3M304 837.5h3M310 837.5h3M316 837.5h3M322 837.5h3M328 837.5h3M334 837.5h3M340 837.5h3M346 837.5h3M352 837.5h3M358 837.5h3M364 837.5h3M370 837.5h3M376 837.5h3M382 837.5h3M388 837.5h3M394 837.5h3M400 837.5h3M406 837.5h3M412 837.5h3M418 837.5h3M424 837.5h3M430 837.5h3M436 837.5h3M442 837.5h3M448 837.5h3M454 837.5h3M460 837.5h3M466 837.5h3M472 837.5h3M478 837.5h3M484 837.5h3M490 837.5h3M496 837.5h3M502 837.5h3M508 837.5h3M514 837.5h3M520 837.5h3M526 837.5h3M532 837.5h3M538 837.5h3M544 837.5h3M550 837.5h3M556 837.5h3M562 837.5h3M568 837.5h3M574 837.5h3M580 837.5h3M586 837.5h3M592 837.5h3M598 837.5h3M604 837.5h3M610 837.5h3M616 837.5h3M622 837.5h3M628 837.5h3M634 837.5h3M640 837.5h3M646 837.5h3M652 837.5h3M658 837.5h3M664 837.5h3M670 837.5h3M676 837.5h3M682 837.5h3M688 837.5h3M694 837.5h3M700 837.5h3M706 837.5h3M712 837.5h3M718 837.5h3M724 837.5h3M730 837.5h3M736 837.5h3M742 837.5h3M748 837.5h3M754 837.5h3M760 837.5h3M766 837.5h3M772 837.5h3M778 837.5h3M784 837.5h3M790 837.5h3M796 837.5h3M802 837.5h3M808 837.5h3M814 837.5h3M820 837.5h3M826 837.5h3M832 837.5h3M838 837.5h3M844 837.5h3M850 837.5h3M856 837.5h3M862 837.5h3M868 837.5h3M874 837.5h3M880 837.5h3M886 837.5h3M892 837.5h3M898 837.5h3M904 837.5h3M910 837.5h3M916 837.5h3M922 837.5h3M928 837.5h3M934 837.5h3M940 837.5h3M946 837.5h3M952 837.5h3M958 837.5h3M964 837.5h3M970 837.5h3M976 837.5h3M982 837.5h3M988 837.5h3M994 837.5h3M1000 837.5h3M1006 837.5h3M1012 837.5h3M1018 837.5h3M1024 837.5h3M1030 837.5h3M1036 837.5h3M1042 837.5h3M1048 837.5h3M1054 837.5h3M1060 837.5h3M1066 837.5h3M1072 837.5h3M1078 837.5h3M1084 837.5h3M1090 837.5h3M1096 837.5h3M1102 837.5h3M1108 837.5h3M1114 837.5h3M1120 837.5h3M1126 837.5h3M1132 837.5h3M1138 837.5h3M1144 837.5h3M1150 837.5h3M1156 837.5h3M1162 837.5h3M1168 837.5h3M1174 837.5h3M1180 837.5h3M1186 837.5h3M1192 837.5h3M1198 837.5h3M1204 837.5h3M1210 837.5h3M1216 837.5h3M1222 837.5h3M1228 837.5h3M1234 837.5h3M1240 837.5h3M1246 837.5h3M1252 837.5h3M1258 837.5h3M1264 837.5h3M1270 837.5h3M1276 837.5h3M1282 837.5h3M1288 837.5h3M1294 837.5h3M1300 837.5h3M1306 837.5h3M1312 837.5h3M1318 837.5h3M1324 837.5h3M1330 837.5h3M1336 837.5h3M1342 837.5h3M1348 837.5h3M1354 837.5h3M1360 837.5h3M1366 837.5h3M1372 837.5h3M1378 837.5h3M1384 837.5h3M1390 837.5h3M1396 837.5h3M1402 837.5h3M1408 837.5h3M1414 837.5h3M1420 837.5h3M1426 837.5h3M1432 837.5h3M1438 837.5h3M1444 837.5h3M1450 837.5h3M1456 837.5h3M1462 837.5h3M1468 837.5h3M1474 837.5h3M1480 837.5h3M1486 837.5h3M1492 837.5h3M1498 837.5h3M1504 837.5h3M1510 837.5h3M1516 837.5h3M1522 837.5h3M1528 837.5h3M1534 837.5h3M1540 837.5h3M1546 837.5h3M1552 837.5h3M1558 837.5h3M1564 837.5h3M1570 837.5h3M1576 837.5h3M1582 837.5h3M1588 837.5h3M1594 837.5h3M1600 837.5h3M1606 837.5h3M1612 837.5h3M1618 837.5h3M1624 837.5h3M1630 837.5h3M1636 837.5h3M1642 837.5h3M1648 837.5h2M-2 898.5h3M4 898.5h3M10 898.5h3M16 898.5h3M22 898.5h3M28 898.5h3M34 898.5h3M40 898.5h3M46 898.5h3M52 898.5h3M58 898.5h3M64 898.5h3M70 898.5h3M76 898.5h3M82 898.5h3M88 898.5h3M94 898.5h3M100 898.5h3M106 898.5h3M112 898.5h3M118 898.5h3M124 898.5h3M130 898.5h3M136 898.5h3M142 898.5h3M148 898.5h3M154 898.5h3M160 898.5h3M166 898.5h3M172 898.5h3M178 898.5h3M184 898.5h3M190 898.5h3M196 898.5h3M202 898.5h3M208 898.5h3M214 898.5h3M220 898.5h3M226 898.5h3M232 898.5h3M238 898.5h3M244 898.5h3M250 898.5h3M256 898.5h3M262 898.5h3M268 898.5h3M274 898.5h3M280 898.5h3M286 898.5h3M292 898.5h3M298 898.5h3M304 898.5h3M310 898.5h3M316 898.5h3M322 898.5h3M328 898.5h3M334 898.5h3M340 898.5h3M346 898.5h3M352 898.5h3M358 898.5h3M364 898.5h3M370 898.5h3M376 898.5h3M382 898.5h3M388 898.5h3M394 898.5h3M400 898.5h3M406 898.5h3M412 898.5h3M418 898.5h3M424 898.5h3M430 898.5h3M436 898.5h3M442 898.5h3M448 898.5h3M454 898.5h3M460 898.5h3M466 898.5h3M472 898.5h3M478 898.5h3M484 898.5h3M490 898.5h3M496 898.5h3M502 898.5h3M508 898.5h3M514 898.5h3M520 898.5h3M526 898.5h3M532 898.5h3M538 898.5h3M544 898.5h3M550 898.5h3M556 898.5h3M562 898.5h3M568 898.5h3M574 898.5h3M580 898.5h3M586 898.5h3M592 898.5h3M598 898.5h3M604 898.5h3M610 898.5h3M616 898.5h3M622 898.5h3M628 898.5h3M634 898.5h3M640 898.5h3M646 898.5h3M652 898.5h3M658 898.5h3M664 898.5h3M670 898.5h3M676 898.5h3M682 898.5h3M688 898.5h3M694 898.5h3M700 898.5h3M706 898.5h3M712 898.5h3M718 898.5h3M724 898.5h3M730 898.5h3M736 898.5h3M742 898.5h3M748 898.5h3M754 898.5h3M760 898.5h3M766 898.5h3M772 898.5h3M778 898.5h3M784 898.5h3M790 898.5h3M796 898.5h3M802 898.5h3M808 898.5h3M814 898.5h3M820 898.5h3M826 898.5h3M832 898.5h3M838 898.5h3M844 898.5h3M850 898.5h3M856 898.5h3M862 898.5h3M868 898.5h3M874 898.5h3M880 898.5h3M886 898.5h3M892 898.5h3M898 898.5h3M904 898.5h3M910 898.5h3M916 898.5h3M922 898.5h3M928 898.5h3M934 898.5h3M940 898.5h3M946 898.5h3M952 898.5h3M958 898.5h3M964 898.5h3M970 898.5h3M976 898.5h3M982 898.5h3M988 898.5h3M994 898.5h3M1000 898.5h3M1006 898.5h3M1012 898.5h3M1018 898.5h3M1024 898.5h3M1030 898.5h3M1036 898.5h3M1042 898.5h3M1048 898.5h3M1054 898.5h3M1060 898.5h3M1066 898.5h3M1072 898.5h3M1078 898.5h3M1084 898.5h3M1090 898.5h3M1096 898.5h3M1102 898.5h3M1108 898.5h3M1114 898.5h3M1120 898.5h3M1126 898.5h3M1132 898.5h3M1138 898.5h3M1144 898.5h3M1150 898.5h3M1156 898.5h3M1162 898.5h3M1168 898.5h3M1174 898.5h3M1180 898.5h3M1186 898.5h3M1192 898.5h3M1198 898.5h3M1204 898.5h3M1210 898.5h3M1216 898.5h3M1222 898.5h3M1228 898.5h3M1234 898.5h3M1240 898.5h3M1246 898.5h3M1252 898.5h3M1258 898.5h3M1264 898.5h3M1270 898.5h3M1276 898.5h3M1282 898.5h3M1288 898.5h3M1294 898.5h3M1300 898.5h3M1306 898.5h3M1312 898.5h3M1318 898.5h3M1324 898.5h3M1330 898.5h3M1336 898.5h3M1342 898.5h3M1348 898.5h3M1354 898.5h3M1360 898.5h3M1366 898.5h3M1372 898.5h3M1378 898.5h3M1384 898.5h3M1390 898.5h3M1396 898.5h3M1402 898.5h3M1408 898.5h3M1414 898.5h3M1420 898.5h3M1426 898.5h3M1432 898.5h3M1438 898.5h3M1444 898.5h3M1450 898.5h3M1456 898.5h3M1462 898.5h3M1468 898.5h3M1474 898.5h3M1480 898.5h3M1486 898.5h3M1492 898.5h3M1498 898.5h3M1504 898.5h3M1510 898.5h3M1516 898.5h3M1522 898.5h3M1528 898.5h3M1534 898.5h3M1540 898.5h3M1546 898.5h3M1552 898.5h3M1558 898.5h3M1564 898.5h3M1570 898.5h3M1576 898.5h3M1582 898.5h3M1588 898.5h3M1594 898.5h3M1600 898.5h3M1606 898.5h3M1612 898.5h3M1618 898.5h3M1624 898.5h3M1630 898.5h3M1636 898.5h3M1642 898.5h3M1648 898.5h2" stroke="#c0c0c0" stroke-width="1" fill="none" shape-rendering="crispEdges"/>
<path d="M7.5 791v2M8.5 793v4M9.5 797v3M10.5 800v4M11.5 804v3M12.5 807v4M13.5 811v3M14.5 814v4M15.5 818v2M56.5 812v2M57.5 814v2M58.5 816v2M60.5 819v2M61.5 821v2M62.5 823v2M64.5 826v2M67.5 830v2M70.5 834v2M96.5 840v2M98.5 843v2M100.5 846v2M102.5 849v2M145.5 850v2M149.5 855v2M185.5 852v2M189.5 847v2M192.5 843v2M193.5 841v2M195.5 838v2M197.5 835v2M198.5 833v2M235.5 824v2M240.5 821v2M241.5 823v2M242.5 825v2M244.5 828v2M245.5 830v2M246.5 832v2M247.5 833v2M248.5 831v2M249.5 829v2M250.5 827v2M251.5 825v2M252.5 823v2M253.5 821v2M254.5 819v2M255.5 817v2M287.5 820v2M288.5 822v2M289.5 824v2M290.5 826v2M291.5 828v2M292.5 830v2M293.5 832v2M294.5 834v2M295.5 836v2M320.5 830v2M321.5 828v2M323.5 825v2M325.5 822v2M326.5 820v2M337.5 816v2M341.5 821v2M345.5 821v2M349.5 816v2M433.5 814v2M437.5 809v2M472.5 798v2M475.5 802v2M478.5 806v2M489.5 811v2M493.5 816v2M495.5 819v3M496.5 822v4M497.5 826v4M498.5 830v5M499.5 835v4M500.5 839v5M501.5 844v4M502.5 848v4M503.5 852v3M504.5 851v2M505.5 849v2M506.5 847v2M507.5 845v2M508.5 843v2M509.5 841v2M510.5 839v2M511.5 837v2M531.5 848v2M535.5 852v2M536.5 850v2M537.5 848v2M538.5 846v2M539.5 844v2M540.5 842v2M541.5 840v2M542.5 838v2M543.5 836v2M576.5 843v2M577.5 841v2M579.5 838v2M581.5 835v2M582.5 833v2M632.5 833v2M634.5 836v2M636.5 839v2M638.5 842v2M657.5 848v2M661.5 853v2M703.5 864v2M704.5 862v2M705.5 860v2M706.5 858v2M707.5 856v2M708.5 854v2M709.5 852v2M710.5 850v2M711.5 848v2M795.5 869v2M808.5 871v2M809.5 869v2M810.5 867v2M811.5 865v2M812.5 863v2M813.5 861v2M814.5 859v2M815.5 857v2M816.5 854v3M817.5 851v3M818.5 848v3M819.5 846v2M820.5 843v3M821.5 840v3M822.5 837v3M823.5 835v2M896.5 850v2M897.5 852v2M899.5 855v2M901.5 858v2M902.5 860v2M911.5 864v2M912.5 862v2M913.5 860v2M914.5 858v2M915.5 856v2M916.5 854v2M917.5 852v2M918.5 850v2M919.5 847v3M920.5 842v5M921.5 837v5M922.5 832v5M923.5 828v4M924.5 823v5M925.5 818v5M926.5 813v5M927.5 810v3M943.5 815v2M944.5 817v2M945.5 819v2M946.5 821v2M947.5 823v2M948.5 825v2M949.5 827v2M950.5 829v2M951.5 831v2M1015.5 822v2M1016.5 824v3M1017.5 827v2M1018.5 829v3M1019.5 832v3M1020.5 835v3M1021.5 838v2M1022.5 840v3M1023.5 843v2M1024.5 845v2M1026.5 848v2M1028.5 851v2M1030.5 854v2M1032.5 854v2M1034.5 851v2M1036.5 848v2M1038.5 845v2M1059.5 850v2M1088.5 851v2M1089.5 849v2M1091.5 846v2M1093.5 843v2M1094.5 841v2M1112.5 828v2M1114.5 825v2M1116.5 822v2M1118.5 819v2M1161.5 813v2M1165.5 818v2M1168.5 822v2M1170.5 825v2M1172.5 828v2M1174.5 831v2M1207.5 836v2M1208.5 838v3M1209.5 841v3M1210.5 844v3M1211.5 847v3M1212.5 850v3M1213.5 853v3M1214.5 856v3M1215.5 859v2M1224.5 860v2M1227.5 856v2M1230.5 852v2M1256.5 842v2M1257.5 840v2M1258.5 838v2M1260.5 835v2M1261.5 833v2M1262.5 831v2M1355.5 813v2M1376.5 811v2M1379.5 807v2M1382.5 803v2M1383.5 802v2M1384.5 804v2M1385.5 806v2M1386.5 808v2M1387.5 810v3M1388.5 813v2M1389.5 815v2M1390.5 817v2M1391.5 819v2M1427.5 803v2M1463 780.5h1M1461 781.5h2M1460 782.5h1M1458 783.5h2M1456 784.5h2M1455 785.5h1M1453 786.5h2M1451 787.5h2M1449 788.5h2M1446 789.5h3M1444 790.5h2M0 791.5h7M1441 791.5h3M1439 792.5h2M1438 793.5h1M1437 794.5h1M1436 795.5h1M1434 796.5h2M471 797.5h1M1433 797.5h1M469 798.5h2M1432 798.5h1M467 799.5h2M1431 799.5h1M465 800.5h2M473 800.5h1M1430 800.5h1M463 801.5h2M474 801.5h1M1429 801.5h1M447 802.5h2M461 802.5h2M1428 802.5h1M445 803.5h2M449 803.5h3M459 803.5h2M444 804.5h1M452 804.5h2M457 804.5h2M476 804.5h1M442 805.5h2M454 805.5h3M477 805.5h1M1381 805.5h1M1426 805.5h1M440 806.5h2M1380 806.5h1M1425 806.5h1M439 807.5h1M1424 807.5h1M39 808.5h1M438 808.5h1M479 808.5h5M934 808.5h2M1422 808.5h2M38 809.5h1M40 809.5h2M484 809.5h4M930 809.5h4M936 809.5h1M1350 809.5h2M1378 809.5h1M1420 809.5h2M37 810.5h1M42 810.5h2M488 810.5h1M928 810.5h2M937 810.5h1M1346 810.5h4M1352 810.5h1M1377 810.5h1M1417 810.5h3M36 811.5h1M44 811.5h1M54 811.5h2M436 811.5h1M938 811.5h2M1158 811.5h2M1342 811.5h4M1353 811.5h1M1415 811.5h2M35 812.5h1M45 812.5h2M50 812.5h4M435 812.5h1M940 812.5h1M1154 812.5h4M1160 812.5h1M1338 812.5h4M1354 812.5h1M1414 812.5h1M34 813.5h1M47 813.5h3M434 813.5h1M490 813.5h1M941 813.5h1M1151 813.5h3M1335 813.5h3M1374 813.5h2M1413 813.5h1M33 814.5h1M335 814.5h1M351 814.5h2M491 814.5h1M942 814.5h1M1149 814.5h2M1333 814.5h2M1372 814.5h2M1412 814.5h1M32 815.5h1M333 815.5h2M336 815.5h1M350 815.5h1M353 815.5h3M415 815.5h1M492 815.5h1M1147 815.5h2M1162 815.5h1M1331 815.5h2M1356 815.5h1M1369 815.5h3M1410 815.5h2M30 816.5h2M332 816.5h1M356 816.5h2M414 816.5h1M416 816.5h2M432 816.5h1M1126 816.5h2M1145 816.5h2M1163 816.5h1M1319 816.5h5M1329 816.5h2M1357 816.5h1M1366 816.5h3M1409 816.5h1M26 817.5h4M256 817.5h4M278 817.5h3M330 817.5h2M358 817.5h10M413 817.5h1M418 817.5h2M430 817.5h2M1122 817.5h4M1128 817.5h2M1143 817.5h2M1164 817.5h1M1318 817.5h1M1324 817.5h5M1358 817.5h1M1362 817.5h4M1408 817.5h1M20 818.5h6M59 818.5h1M260 818.5h6M276 818.5h2M281 818.5h3M328 818.5h2M338 818.5h1M348 818.5h1M368 818.5h1M412 818.5h1M420 818.5h1M428 818.5h2M494 818.5h1M980 818.5h8M1119 818.5h3M1130 818.5h2M1141 818.5h2M1316 818.5h2M1359 818.5h3M1406 818.5h2M16 819.5h4M266 819.5h4M273 819.5h3M284 819.5h2M327 819.5h1M339 819.5h1M347 819.5h1M369 819.5h1M410 819.5h2M421 819.5h2M425 819.5h3M974 819.5h6M988 819.5h5M1132 819.5h1M1139 819.5h2M1315 819.5h1M1402 819.5h4M239 820.5h1M270 820.5h3M286 820.5h1M340 820.5h1M346 820.5h1M370 820.5h1M409 820.5h1M423 820.5h2M972 820.5h2M993 820.5h2M1133 820.5h2M1137 820.5h2M1166 820.5h1M1303 820.5h3M1314 820.5h1M1392 820.5h10M238 821.5h1M371 821.5h1M408 821.5h1M969 821.5h3M995 821.5h2M1117 821.5h1M1135 821.5h2M1167 821.5h1M1302 821.5h1M1306 821.5h4M1312 821.5h2M237 822.5h1M372 822.5h1M398 822.5h10M967 822.5h2M997 822.5h2M1014 822.5h1M1301 822.5h1M1310 822.5h2M236 823.5h1M342 823.5h1M344 823.5h1M373 823.5h1M394 823.5h4M966 823.5h1M999 823.5h5M1010 823.5h4M1300 823.5h1M324 824.5h1M343 824.5h1M374 824.5h1M388 824.5h6M965 824.5h1M1004 824.5h6M1115 824.5h1M1169 824.5h1M1299 824.5h1M63 825.5h1M375 825.5h13M964 825.5h1M1298 825.5h1M220 826.5h5M234 826.5h1M963 826.5h1M1297 826.5h1M214 827.5h6M225 827.5h3M233 827.5h1M243 827.5h1M322 827.5h1M962 827.5h1M1113 827.5h1M1171 827.5h1M1286 827.5h6M1296 827.5h1M65 828.5h1M210 828.5h4M228 828.5h2M232 828.5h1M961 828.5h1M1284 828.5h2M1292 828.5h4M66 829.5h1M206 829.5h4M230 829.5h2M590 829.5h2M960 829.5h1M1281 829.5h3M204 830.5h2M588 830.5h2M592 830.5h2M958 830.5h2M1111 830.5h1M1173 830.5h1M1182 830.5h2M1263 830.5h2M1279 830.5h2M79 831.5h1M201 831.5h3M585 831.5h3M594 831.5h2M614 831.5h3M954 831.5h4M1109 831.5h2M1180 831.5h2M1184 831.5h1M1265 831.5h2M1277 831.5h2M68 832.5h1M77 832.5h2M80 832.5h2M199 832.5h2M303 832.5h17M583 832.5h2M596 832.5h1M612 832.5h2M617 832.5h3M630 832.5h2M952 832.5h2M1107 832.5h2M1177 832.5h3M1185 832.5h1M1199 832.5h2M1267 832.5h2M1275 832.5h2M69 833.5h1M76 833.5h1M82 833.5h1M301 833.5h2M550 833.5h3M597 833.5h2M609 833.5h3M620 833.5h2M626 833.5h4M1105 833.5h2M1175 833.5h2M1186 833.5h2M1197 833.5h2M1201 833.5h2M1269 833.5h2M1273 833.5h2M74 834.5h2M83 834.5h1M300 834.5h1M548 834.5h2M553 834.5h2M599 834.5h10M622 834.5h4M846 834.5h2M870 834.5h2M1103 834.5h2M1188 834.5h1M1196 834.5h1M1203 834.5h2M1271 834.5h2M72 835.5h2M84 835.5h2M298 835.5h2M545 835.5h3M555 835.5h2M633 835.5h1M824 835.5h2M842 835.5h4M848 835.5h2M866 835.5h4M872 835.5h2M1102 835.5h1M1189 835.5h1M1194 835.5h2M1205 835.5h2M71 836.5h1M86 836.5h1M296 836.5h2M544 836.5h1M557 836.5h2M826 836.5h4M836 836.5h6M850 836.5h1M863 836.5h3M874 836.5h2M1100 836.5h2M1190 836.5h1M1192 836.5h2M87 837.5h3M196 837.5h1M512 837.5h1M559 837.5h1M580 837.5h1M830 837.5h6M851 837.5h1M861 837.5h2M876 837.5h1M1099 837.5h1M1191 837.5h1M1259 837.5h1M90 838.5h4M513 838.5h3M560 838.5h2M635 838.5h1M852 838.5h2M859 838.5h2M877 838.5h2M1098 838.5h1M94 839.5h2M516 839.5h2M562 839.5h2M854 839.5h1M857 839.5h2M879 839.5h1M1096 839.5h2M194 840.5h1M518 840.5h3M564 840.5h1M578 840.5h1M855 840.5h2M880 840.5h2M1095 840.5h1M521 841.5h2M565 841.5h2M637 841.5h1M882 841.5h2M1046 841.5h2M97 842.5h1M523 842.5h2M567 842.5h2M884 842.5h1M1044 842.5h2M1048 842.5h2M111 843.5h2M134 843.5h2M525 843.5h2M569 843.5h3M885 843.5h2M1041 843.5h3M1050 843.5h2M110 844.5h1M113 844.5h2M130 844.5h4M136 844.5h2M527 844.5h1M572 844.5h2M639 844.5h3M887 844.5h1M1039 844.5h2M1052 844.5h1M1254 844.5h2M99 845.5h1M109 845.5h1M115 845.5h2M126 845.5h4M138 845.5h2M191 845.5h1M528 845.5h1M574 845.5h2M642 845.5h4M888 845.5h2M1053 845.5h2M1092 845.5h1M1252 845.5h2M108 846.5h1M117 846.5h2M122 846.5h4M140 846.5h1M190 846.5h1M529 846.5h1M646 846.5h10M726 846.5h6M890 846.5h2M1055 846.5h1M1249 846.5h3M107 847.5h1M119 847.5h3M141 847.5h2M530 847.5h1M656 847.5h1M724 847.5h2M732 847.5h5M892 847.5h1M1025 847.5h1M1037 847.5h1M1056 847.5h1M1247 847.5h2M101 848.5h1M106 848.5h1M143 848.5h1M712 848.5h4M721 848.5h3M737 848.5h2M893 848.5h2M1057 848.5h1M1090 848.5h1M1246 848.5h1M105 849.5h1M144 849.5h1M188 849.5h1M671 849.5h1M716 849.5h5M739 849.5h2M895 849.5h1M1058 849.5h1M1245 849.5h1M104 850.5h1M187 850.5h1M532 850.5h1M658 850.5h1M670 850.5h1M672 850.5h1M741 850.5h2M1027 850.5h1M1035 850.5h1M1244 850.5h1M103 851.5h1M186 851.5h1M533 851.5h1M659 851.5h1M669 851.5h1M673 851.5h1M743 851.5h1M1231 851.5h2M1242 851.5h2M146 852.5h1M534 852.5h1M660 852.5h1M668 852.5h1M674 852.5h1M744 852.5h2M1060 852.5h1M1078 852.5h6M1233 852.5h3M1241 852.5h1M147 853.5h1M666 853.5h2M675 853.5h1M746 853.5h2M1029 853.5h1M1033 853.5h1M1061 853.5h1M1076 853.5h2M1084 853.5h4M1236 853.5h2M1240 853.5h1M148 854.5h1M184 854.5h1M665 854.5h1M676 854.5h1M748 854.5h1M898 854.5h1M1062 854.5h1M1073 854.5h3M1229 854.5h1M1238 854.5h2M182 855.5h2M662 855.5h1M664 855.5h1M677 855.5h1M749 855.5h2M1063 855.5h10M1228 855.5h1M178 856.5h4M663 856.5h1M678 856.5h1M751 856.5h5M1031 856.5h1M150 857.5h1M156 857.5h22M679 857.5h2M756 857.5h8M900 857.5h1M151 858.5h5M681 858.5h2M764 858.5h5M1226 858.5h1M683 859.5h2M769 859.5h3M1225 859.5h1M685 860.5h2M772 860.5h2M1216 860.5h2M687 861.5h2M774 861.5h6M1218 861.5h4M689 862.5h2M780 862.5h5M903 862.5h2M1222 862.5h2M691 863.5h2M785 863.5h3M905 863.5h3M693 864.5h2M788 864.5h2M908 864.5h2M695 865.5h8M790 865.5h2M910 865.5h1M792 866.5h1M793 867.5h1M794 868.5h1M796 871.5h1M797 872.5h1M798 873.5h1M804 873.5h4M799 874.5h5" stroke="#1e90ff" stroke-width="1" fill="none" shape-rendering="crispEdges"/>
<line x1="1259.5" y1="405.5" x2="1475.5" y2="89.0" stroke="#ff0000" stroke-width="3.7"/><polygon points="1480.6,81.6 1478.4,93.4 1470.4,88.0" fill="#ff0000"/>
<line x1="1398.3" y1="662.6" x2="1465.4" y2="596.7" stroke="#ff0000" stroke-width="2.8"/><polygon points="1471.8,590.4 1467.2,601.4 1460.7,594.8" fill="#ff0000"/>
<line x1="1374.3" y1="829.7" x2="1481.9" y2="779.7" stroke="#ff0000" stroke-width="3.2"/><polygon points="1489.9,776.0 1482.0,784.6 1478.2,776.5" fill="#ff0000"/>
<text transform="translate(-4 590.6) scale(1 1.07)" font-size="9.3" fill="#000" >MACD(12,26,9) 0.3961 0.2533</text>
<text transform="translate(-5.5 762.6) scale(1 1.07)" font-size="9.3" fill="#000" >RSI(14) 83.2549</text>
<rect x="0" y="33" width="1" height="1" fill="#000" />
<text transform="translate(6.8 35.2) scale(1 1.04)" font-size="9.42" fill="#000" >USDJPY-,H4&#160; 116.986 117.347 116.969 117.345</text>
<g shape-rendering="crispEdges"><rect x="0" y="28" width="1650" height="1" fill="#ff0000" /></g>
<g shape-rendering="crispEdges">
<rect x="55" y="925" width="1" height="3" fill="#000" />
<rect x="119" y="925" width="1" height="3" fill="#000" />
<rect x="183" y="925" width="1" height="3" fill="#000" />
<rect x="247" y="925" width="1" height="3" fill="#000" />
<rect x="311" y="925" width="1" height="3" fill="#000" />
<rect x="375" y="925" width="1" height="3" fill="#000" />
<rect x="439" y="925" width="1" height="3" fill="#000" />
<rect x="503" y="925" width="1" height="3" fill="#000" />
<rect x="567" y="925" width="1" height="3" fill="#000" />
<rect x="631" y="925" width="1" height="3" fill="#000" />
<rect x="695" y="925" width="1" height="3" fill="#000" />
<rect x="759" y="925" width="1" height="3" fill="#000" />
<rect x="823" y="925" width="1" height="3" fill="#000" />
<rect x="887" y="925" width="1" height="3" fill="#000" />
<rect x="951" y="925" width="1" height="3" fill="#000" />
<rect x="1015" y="925" width="1" height="3" fill="#000" />
<rect x="1079" y="925" width="1" height="3" fill="#000" />
<rect x="1143" y="925" width="1" height="3" fill="#000" />
<rect x="1207" y="925" width="1" height="3" fill="#000" />
<rect x="1271" y="925" width="1" height="3" fill="#000" />
<rect x="1335" y="925" width="1" height="3" fill="#000" />
<rect x="1399" y="925" width="1" height="3" fill="#000" />
<rect x="1463" y="925" width="1" height="3" fill="#000" />
</g>
<text transform="translate(-11.2 937) scale(1 1.07)" font-size="9.3" fill="#000" >28 Jan 2022</text>
<text transform="translate(53.3 937) scale(1 1.07)" font-size="9.3" fill="#000" >31 Jan 08:00</text>
<text transform="translate(117.3 937) scale(1 1.07)" font-size="9.3" fill="#000" >1 Feb 16:00</text>
<text transform="translate(181.3 937) scale(1 1.07)" font-size="9.3" fill="#000" >3 Feb 00:00</text>
<text transform="translate(245.3 937) scale(1 1.07)" font-size="9.3" fill="#000" >4 Feb 08:00</text>
<text transform="translate(309.3 937) scale(1 1.07)" font-size="9.3" fill="#000" >7 Feb 16:00</text>
<text transform="translate(373.3 937) scale(1 1.07)" font-size="9.3" fill="#000" >9 Feb 00:00</text>
<text transform="translate(437.3 937) scale(1 1.07)" font-size="9.3" fill="#000" >10 Feb 08:00</text>
<text transform="translate(501.3 937) scale(1 1.07)" font-size="9.3" fill="#000" >11 Feb 16:00</text>
<text transform="translate(565.3 937) scale(1 1.07)" font-size="9.3" fill="#000" >15 Feb 00:00</text>
<text transform="translate(629.3 937) scale(1 1.07)" font-size="9.3" fill="#000" >16 Feb 08:00</text>
<text transform="translate(693.3 937) scale(1 1.07)" font-size="9.3" fill="#000" >17 Feb 16:00</text>
<text transform="translate(757.3 937) scale(1 1.07)" font-size="9.3" fill="#000" >21 Feb 00:00</text>
<text transform="translate(821.3 937) scale(1 1.07)" font-size="9.3" fill="#000" >22 Feb 08:00</text>
<text transform="translate(885.3 937) scale(1 1.07)" font-size="9.3" fill="#000" >23 Feb 16:00</text>
<text transform="translate(949.3 937) scale(1 1.07)" font-size="9.3" fill="#000" >25 Feb 00:00</text>
<text transform="translate(1013.3 937) scale(1 1.07)" font-size="9.3" fill="#000" >28 Feb 08:00</text>
<text transform="translate(1077.3 937) scale(1 1.07)" font-size="9.3" fill="#000" >1 Mar 16:00</text>
<text transform="translate(1141.3 937) scale(1 1.07)" font-size="9.3" fill="#000" >3 Mar 00:00</text>
<text transform="translate(1205.3 937) scale(1 1.07)" font-size="9.3" fill="#000" >4 Mar 08:00</text>
<text transform="translate(1269.3 937) scale(1 1.07)" font-size="9.3" fill="#000" >7 Mar 16:00</text>
<text transform="translate(1333.3 937) scale(1 1.07)" font-size="9.3" fill="#000" >9 Mar 00:00</text>
<text transform="translate(1397.3 937) scale(1 1.07)" font-size="9.3" fill="#000" >10 Mar 08:00</text>
<text transform="translate(1461.3 937) scale(1 1.07)" font-size="9.3" fill="#000" >11 Mar 16:00</text>
<rect x="1696" y="21" width="1" height="922" fill="#e8e8e8" />
<g id="toolbar">
<rect x="0" y="0" width="1697" height="19" fill="#f0f0f0" />
<rect x="0" y="18" width="1697" height="1" fill="#ececec" />
<rect x="0" y="19" width="1697" height="1" fill="#b2b2b2" />
<rect x="0" y="20" width="1697" height="1" fill="#6e6e6e" />
<rect x="0" y="21" width="1697" height="1" fill="#fbfbfb" />
<g shape-rendering="crispEdges">
<rect x="11" y="0" width="1" height="18" fill="#c4c4c4" /><rect x="12" y="0" width="1" height="18" fill="#fcfcfc" />
<rect x="247" y="0" width="1" height="19" fill="#a0a0a0" /><rect x="248" y="0" width="1" height="19" fill="#fafafa" />
<rect x="251" y="1" width="4" height="1" fill="#a8a8a8" /><rect x="251" y="3" width="4" height="1" fill="#a8a8a8" /><rect x="251" y="5" width="4" height="1" fill="#a8a8a8" /><rect x="251" y="7" width="4" height="1" fill="#a8a8a8" /><rect x="251" y="9" width="4" height="1" fill="#a8a8a8" /><rect x="251" y="11" width="4" height="1" fill="#a8a8a8" /><rect x="251" y="13" width="4" height="1" fill="#a8a8a8" /><rect x="251" y="15" width="4" height="1" fill="#a8a8a8" />
<rect x="285" y="0" width="1" height="17" fill="#a0a0a0" /><rect x="286" y="0" width="1" height="17" fill="#fafafa" />
<rect x="287" y="0" width="24" height="17" fill="#f8f8f8" /><rect x="286" y="0" width="1" height="17" fill="#a0a0a0" />
<rect x="342" y="0" width="1" height="17" fill="#a0a0a0" /><rect x="343" y="0" width="1" height="17" fill="#fafafa" />
<rect x="432" y="0" width="1" height="17" fill="#a0a0a0" /><rect x="433" y="0" width="1" height="17" fill="#fafafa" />
<rect x="438" y="0" width="25" height="17" fill="#f8f8f8" /><rect x="437" y="0" width="1" height="17" fill="#a0a0a0" />
<rect x="466" y="0" width="25" height="17" fill="#f8f8f8" /><rect x="465" y="0" width="1" height="17" fill="#a0a0a0" />
<rect x="494" y="0" width="1" height="17" fill="#a0a0a0" /><rect x="495" y="0" width="1" height="17" fill="#fafafa" />
<rect x="615" y="0" width="1" height="19" fill="#a0a0a0" /><rect x="616" y="0" width="1" height="19" fill="#fafafa" />
<rect x="619" y="1" width="4" height="1" fill="#a8a8a8" /><rect x="619" y="3" width="4" height="1" fill="#a8a8a8" /><rect x="619" y="5" width="4" height="1" fill="#a8a8a8" /><rect x="619" y="7" width="4" height="1" fill="#a8a8a8" /><rect x="619" y="9" width="4" height="1" fill="#a8a8a8" /><rect x="619" y="11" width="4" height="1" fill="#a8a8a8" /><rect x="619" y="13" width="4" height="1" fill="#a8a8a8" /><rect x="619" y="15" width="4" height="1" fill="#a8a8a8" />
<rect x="626" y="0" width="25" height="17" fill="#f8f8f8" /><rect x="625" y="0" width="1" height="17" fill="#a0a0a0" />
<rect x="682" y="0" width="1" height="17" fill="#a0a0a0" /><rect x="683" y="0" width="1" height="17" fill="#fafafa" />
<rect x="921" y="0" width="1" height="19" fill="#a0a0a0" /><rect x="922" y="0" width="1" height="19" fill="#fafafa" />
<rect x="925" y="1" width="4" height="1" fill="#a8a8a8" /><rect x="925" y="3" width="4" height="1" fill="#a8a8a8" /><rect x="925" y="5" width="4" height="1" fill="#a8a8a8" /><rect x="925" y="7" width="4" height="1" fill="#a8a8a8" /><rect x="925" y="9" width="4" height="1" fill="#a8a8a8" /><rect x="925" y="11" width="4" height="1" fill="#a8a8a8" /><rect x="925" y="13" width="4" height="1" fill="#a8a8a8" /><rect x="925" y="15" width="4" height="1" fill="#a8a8a8" />
<rect x="1072" y="0" width="25" height="17" fill="#f8f8f8" /><rect x="1071" y="0" width="1" height="17" fill="#a0a0a0" />
<rect x="1182" y="0" width="1" height="19" fill="#a0a0a0" /><rect x="1183" y="0" width="1" height="19" fill="#fafafa" />
</g>
<path d="M-1 11L3.5 16" stroke="#c89a28" stroke-width="2.6" fill="none"/>
<path d="M9.5 16.2L10.8 17.5L9.5 18.8L8.2 17.5Z" fill="#f0f0f0" stroke="#000" stroke-width="0.7"/>
<path d="M21.5 -1V12.5H32.5V2.5L29.5 -0.5Z" fill="#fdfdfd" stroke="#8a8a8a" stroke-width="1"/><path d="M24 2.5H29M24 5.5H30M24 8.5H28" stroke="#a8a8a8" stroke-width="1"/><path d="M29.5 5.8H32.9V9.2H36.6V12.6H32.9V16.2H29.5V12.6H25.799999999999997V9.2H29.5Z" fill="#2fcf2f" stroke="#0f8f0f" stroke-width="0.9"/><path d="M30.4 7V10.2H27.0" stroke="#8cf08c" stroke-width="0.9" fill="none"/>
<path transform="translate(40.5 -1.5) scale(1.0)" d="M0 2H6M1.5 3L2 4.5M4.5 3L4 4.5M-0.5 5H6.5M0.5 7.5H5.5M3 5V12L2 11.5M2.8 8.2L0.3 10.8M3.4 8.2L5.6 10.2M11.5 0.5L8 2V7Q8 10 6.5 12M8 5H12.3M10.5 5V12" stroke="#000" stroke-width="1" fill="none" stroke-linejoin="round"/>
<path transform="translate(52.5 -1.5) scale(1.0)" d="M1 1L2.5 2.5M0 5H3V10.6L4.6 9M5 2H12.5M9 2V11.6L7.4 11" stroke="#000" stroke-width="1" fill="none" stroke-linejoin="round"/>
<path transform="translate(64.5 -1.5) scale(1.0)" d="M3 0.4L4 1.6M9 0.4L8 1.6M2 2H10V7H2ZM2 4.5H10M0 10H12M6 2V12.2" stroke="#000" stroke-width="1" fill="none" stroke-linejoin="round"/>
<path transform="translate(192.5 -1.5) scale(1.0)" d="M6 0.5L5.2 2.2M2.5 2.5H9.5V12H2.5ZM2.5 5.7H9.5M2.5 8.8H9.5" stroke="#000" stroke-width="1" fill="none" stroke-linejoin="round"/>
<path transform="translate(204.5 -1.5) scale(1.0)" d="M0.5 2.5H5.5M0 5.5H6M3 5.5L1 10L5.5 9.5M4.5 8L6 11M6.5 4H12L11.5 11.5L10 11M9.5 0.5V4Q9.5 9 6.5 12" stroke="#000" stroke-width="1" fill="none" stroke-linejoin="round"/>
<path transform="translate(216.5 -1.5) scale(1.0)" d="M6 0.5V2.5M0 2.5H12M4 4L1.5 6.5M8 4L10.5 6.5M8.5 6Q7 10 0.5 12M3.5 6Q5 10 12 12" stroke="#000" stroke-width="1" fill="none" stroke-linejoin="round"/>
<path transform="translate(228.5 -1.5) scale(1.0)" d="M2.5 1H9.5V6H2.5ZM2.5 3.5H9.5M3.5 6L0.5 9.5M2.5 7.5H11.5L11 12L9.5 11.5M6 7.5L3 12M8.5 7.5L6 12" stroke="#000" stroke-width="1" fill="none" stroke-linejoin="round"/>
<path d="M95.5 -1.5L104.5 6.5L98 14.6Q96.5 15.4 95 14.4L88 9Z" fill="#e8b830" stroke="#b07a14" stroke-width="1"/>
<path d="M94 1.5L101.5 7.5" stroke="#f8e08a" stroke-width="1.6" fill="none"/>
<path d="M89 9.6L96 14.8L103.6 7.4" stroke="#8a5a10" stroke-width="1" fill="none"/>
<path d="M120.5 -1H129.5V8H120.5Z" fill="#3a8ae8" stroke="#2a6ac8" stroke-width="1"/>
<path d="M122 2.5H128M122 5H126" stroke="#e8f2ff" stroke-width="1.2"/>
<path d="M118 14.5Q115 14.5 115.5 11.8Q116 9.6 118.6 9.8Q119.4 7.4 122.4 7.8Q124 6.4 126.4 7.6Q129 7.2 129.8 9.6Q133 9.6 132.8 12.4Q132.6 14.5 130 14.5Z" fill="#e6ecf6" stroke="#7f98c4" stroke-width="1"/>
<g fill="none" stroke-linecap="round"><circle cx="152.2" cy="6.6" r="7.6" stroke="#c0cce0" stroke-width="1.3"/><circle cx="152.2" cy="6.6" r="5.2" stroke="#8aa4d4" stroke-width="1.3"/><circle cx="152.2" cy="6.6" r="2.8" stroke="#6688cc" stroke-width="1.3"/></g>
<path d="M152.2 6.6L160 6.6A7.8 7.8 0 0 1 152.6 14.4Z" fill="#8cc890" opacity="0.85"/>
<path d="M152.6 7V14.3" stroke="#1fa01f" stroke-width="1.5"/><circle cx="152.2" cy="6.4" r="1.5" fill="#2a5ac8"/>
<path d="M171.5 4.2Q172 1.6 176 2Q177 -1 179.5 -1.5Q182 -1 182.6 2Q186.6 1.4 187 4Q186 6.4 179.4 6.4Q172.4 6.4 171.5 4.2Z" fill="#5aa2e0" stroke="#3a7cc0" stroke-width="0.8"/>
<path d="M172.5 6.2Q179 8.2 186 6L181 14.4Q179 15 177.6 13.6Z" fill="#f4d860" stroke="#d0a828" stroke-width="0.8"/>
<circle cx="183.6" cy="10.8" r="4.3" fill="#e02810" stroke="#b01808" stroke-width="0.7"/>
<rect x="182.2" y="9.4" width="2.9" height="2.9" fill="#fff" />
<path d="M265.3 1.5V14.8M262.7 12.4H275.8" stroke="#484848" stroke-width="1.15" fill="none"/><path d="M263.6 3.2L265.3 0.8L267.0 3.2M274.5 10.7L276.7 12.4L274.5 14.1" stroke="#484848" stroke-width="1" fill="none"/>
<path d="M271.6 3V10M271.6 3.4H274.2M269 9.6H271.6" stroke="#14a014" stroke-width="1.2" fill="none"/>
<path d="M293.4 1.5V14.8M290.79999999999995 12.4H303.9" stroke="#484848" stroke-width="1.15" fill="none"/><path d="M291.7 3.2L293.4 0.8L295.09999999999997 3.2M302.59999999999997 10.7L304.79999999999995 12.4L302.59999999999997 14.1" stroke="#484848" stroke-width="1" fill="none"/>
<path d="M299.6 -1V10.6" stroke="#109010" stroke-width="1.2"/>
<rect x="297.4" y="1.6" width="4.5" height="7" fill="#34dc34" stroke="#109010" stroke-width="1"/>
<path d="M321.5 1.5V14.8M318.9 12.4H332.0" stroke="#484848" stroke-width="1.15" fill="none"/><path d="M319.8 3.2L321.5 0.8L323.2 3.2M330.7 10.7L332.9 12.4L330.7 14.1" stroke="#484848" stroke-width="1" fill="none"/>
<path d="M320.2 9.8Q322 8.4 324 5.6Q326 3.2 328 5Q330 7.2 331.8 8" stroke="#2a9a2a" stroke-width="1.2" fill="none"/>
<path d="M360.9 9.3L366.5 14.6" stroke="#c89a20" stroke-width="2.8" stroke-linecap="round"/><path d="M361.29999999999995 9.2L366.29999999999995 14" stroke="#f4de80" stroke-width="1" stroke-linecap="round"/><circle cx="356.9" cy="5.1" r="5.4" fill="#d8ecfa" stroke="#3a84d8" stroke-width="1.4"/><path d="M353.9 5.1H359.9" stroke="#4a86b8" stroke-width="1.6"/><path d="M356.9 2.1V8.1" stroke="#4a86b8" stroke-width="1.6"/>
<path d="M389.1 9.3L394.70000000000005 14.6" stroke="#c89a20" stroke-width="2.8" stroke-linecap="round"/><path d="M389.5 9.2L394.5 14" stroke="#f4de80" stroke-width="1" stroke-linecap="round"/><circle cx="385.1" cy="5.1" r="5.4" fill="#d8ecfa" stroke="#3a84d8" stroke-width="1.4"/><path d="M382.1 5.1H388.1" stroke="#4a86b8" stroke-width="1.6"/>
<rect x="407.2" y="-0.5" width="7.6" height="7.3" fill="#3f9f1f" stroke="#2f7f0f" stroke-width="0.6"/>
<rect x="408.5" y="2.1" width="5" height="3.2" fill="#f4f8ff"/>
<rect x="409.5" y="3.1" width="3" height="0.9" fill="#3f9f1f" opacity="0.6"/>
<rect x="415.3" y="-0.5" width="7.6" height="7.3" fill="#2858d8" stroke="#1838a8" stroke-width="0.6"/>
<rect x="416.6" y="2.1" width="5" height="3.2" fill="#f4f8ff"/>
<rect x="417.6" y="3.1" width="3" height="0.9" fill="#2858d8" opacity="0.6"/>
<rect x="407.2" y="7.2" width="7.6" height="7.3" fill="#2858d8" stroke="#1838a8" stroke-width="0.6"/>
<rect x="408.5" y="9.8" width="5" height="3.2" fill="#f4f8ff"/>
<rect x="409.5" y="10.8" width="3" height="0.9" fill="#2858d8" opacity="0.6"/>
<rect x="415.3" y="7.2" width="7.6" height="7.3" fill="#3f9f1f" stroke="#2f7f0f" stroke-width="0.6"/>
<rect x="416.6" y="9.8" width="5" height="3.2" fill="#f4f8ff"/>
<rect x="417.6" y="10.8" width="3" height="0.9" fill="#3f9f1f" opacity="0.6"/>
<path d="M445.5 1.5V14.8M442.9 12.4H456.0" stroke="#484848" stroke-width="1.15" fill="none"/><path d="M443.8 3.2L445.5 0.8L447.2 3.2M454.7 10.7L456.9 12.4L454.7 14.1" stroke="#484848" stroke-width="1" fill="none"/>
<path d="M450.2 3.2V10L454.6 6.6Z" fill="#38d038" stroke="#109010" stroke-width="1"/>
<path d="M473.4 1.5V14.8M470.79999999999995 12.4H483.9" stroke="#484848" stroke-width="1.15" fill="none"/><path d="M471.7 3.2L473.4 0.8L475.09999999999997 3.2M482.59999999999997 10.7L484.79999999999995 12.4L482.59999999999997 14.1" stroke="#484848" stroke-width="1" fill="none"/>
<path d="M479.6 1V10.8" stroke="#2070b0" stroke-width="1.5"/>
<path d="M481 6.5H485.6M483.4 4.2L481 6.5L483.4 8.8" stroke="#d84000" stroke-width="1.3" fill="none"/>
<path d="M504.5 -1V12.5H515.5V2.5L512.5 -0.5Z" fill="#fdfdfd" stroke="#8a8a8a" stroke-width="1"/><path d="M509 1.5Q507 3 508 5Q507 7 508.6 9" stroke="#5a5a5a" stroke-width="1" fill="none"/><path d="M512.3 5.4H515.7V9H519.6V12.4H515.7V16.4H512.3V12.4H508.4V9H512.3Z" fill="#2fcf2f" stroke="#0f8f0f" stroke-width="0.9"/><path d="M513.2 6.6V10H509.6" stroke="#8cf08c" stroke-width="0.9" fill="none"/>
<polygon points="526,6 532,6 529,9.6" fill="#000"/>
<circle cx="549.8" cy="6.9" r="7" fill="#f4f8ff" stroke="#1f6ad4" stroke-width="2.7"/>
<path d="M549.8 2.6V7H552.6" stroke="#303030" stroke-width="1.2" fill="none"/><circle cx="549.8" cy="-0.4" r="1.6" fill="#2272d8"/>
<polygon points="564.7,6 570.7,6 567.7,9.6" fill="#000"/>
<rect x="581.7" y="-1" width="15" height="14.8" fill="#fff" stroke="#3a72c8" stroke-width="1.2"/>
<rect x="582" y="0" width="14.4" height="2.2" fill="#5a92e0" />
<path d="M582.5 7.6H596" stroke="#3a72c8" stroke-width="1"/>
<path d="M584 6L586.4 5.6L588.4 4.2L590.6 5.2L592.8 5L594.6 4" stroke="#a82810" stroke-width="1.3" fill="none"/>
<path d="M584 11.4L586.4 11L588.2 11.6L590.4 10L592 9.2L594.4 11.6" stroke="#209020" stroke-width="1.3" fill="none"/>
<polygon points="603.8,6 609.8,6 606.8,9.6" fill="#000"/>
<path d="M633 -2V10.6L636 8L638.6 14.2L640.4 13.4L637.8 7.6H641.6Z" fill="#484848"/>
<path d="M658 7.4H664.2M667 7.4H673.2M665.6 -1V5.8M665.6 9V14.8" stroke="#484848" stroke-width="1.3"/>
<path d="M699.4 1V14" stroke="#484848" stroke-width="1.3"/>
<path d="M722 7.4H734.2" stroke="#484848" stroke-width="1.3"/>
<path d="M749.6 14L761.8 1.9" stroke="#484848" stroke-width="1.3"/>
<path d="M776 9.4L788 -0.6M777.6 13.4L790 3.4M778.8 7.2L779.8 11.6M782 4.6L783 9M785.2 2L786.2 6.4M788 -0.6L789 4" stroke="#484848" stroke-width="1.1" fill="none"/>
<text x="786.6" y="16" font-size="7.5" font-weight="bold" fill="#303030">E</text>
<path d="M805 0.5H818" stroke="#484848" stroke-width="1" stroke-dasharray="1 1" shape-rendering="crispEdges"/>
<path d="M805 3.5H818" stroke="#484848" stroke-width="1" stroke-dasharray="1 1" shape-rendering="crispEdges"/>
<path d="M805 7.5H818" stroke="#484848" stroke-width="1" stroke-dasharray="1 1" shape-rendering="crispEdges"/>
<path d="M805 11.5H814" stroke="#484848" stroke-width="1" stroke-dasharray="1 1" shape-rendering="crispEdges"/>
<text x="814.6" y="16" font-size="7.5" font-weight="bold" fill="#303030">F</text>
<text x="835.8" y="12" font-size="11.6" fill="#484848" stroke="#484848" stroke-width="0.3">A</text>
<rect x="862.5" y="1.5" width="11" height="12" fill="none" stroke="#484848" stroke-width="1" stroke-dasharray="1 1" shape-rendering="crispEdges"/>
<rect x="861" y="0" width="3" height="1.6" fill="#484848" />
<text x="864.2" y="12" font-size="11.5" font-weight="bold" fill="#505050">T</text>
<path d="M892.5 0.6L895.6 3.6L892.5 6.2L889.4 3.6ZM899.6 8.2L902.8 10.8L899.6 13.8L896.4 10.8Z" fill="#484848"/>
<path d="M892 7.6L894.2 9.8L898.6 4.6" stroke="#484848" stroke-width="1.3" fill="none"/>
<polygon points="909.8,6 915.8,6 912.8,9.6" fill="#000"/>
<text x="936.4" y="10.8" font-size="9.4" fill="#3c3c3c">M1</text>
<text x="964.6" y="10.8" font-size="9.4" fill="#3c3c3c">M5</text>
<text x="990.4" y="10.8" font-size="9.4" fill="#3c3c3c">M15</text>
<text x="1018.2" y="10.8" font-size="9.4" fill="#3c3c3c">M30</text>
<text x="1049.4" y="10.8" font-size="9.4" fill="#3c3c3c">H1</text>
<text x="1076.6" y="10.8" font-size="9.4" fill="#3c3c3c">H4</text>
<text x="1105.4" y="10.8" font-size="9.4" fill="#3c3c3c">D1</text>
<text x="1132.4" y="10.8" font-size="9.4" fill="#3c3c3c">W1</text>
<text x="1159.4" y="10.8" font-size="9.4" fill="#3c3c3c">MN</text>
<path d="M1651.2 6.8L1645.8 12.4" stroke="#2a62d0" stroke-width="2.2" stroke-linecap="round"/>
<circle cx="1653.4" cy="4.3" r="3.6" fill="#f4f8ff" stroke="#2a62d0" stroke-width="1.5"/>
<path d="M1669.5 9.5Q1669.5 5.5 1674.5 5.5Q1680 5.5 1680 9.5Q1680 13 1675.4 13.2L1672.4 15.4L1672.8 13Q1669.5 12.4 1669.5 9.5Z" fill="#f4f4f4" stroke="#b4b4b4" stroke-width="1"/>
<circle cx="1682.6" cy="4.6" r="8.4" fill="#d83a22"/><circle cx="1682" cy="3.4" r="6.4" fill="#e4502e" opacity="0.6"/>
<text x="1679.2" y="8.6" font-size="11.5" fill="#fff">1</text>
</g>
<defs><linearGradient id="gb" x1="0" y1="0" x2="0" y2="1"><stop offset="0" stop-color="#5a5aff"/><stop offset="1" stop-color="#3636dc"/></linearGradient><linearGradient id="gp" x1="0" y1="0" x2="0" y2="1"><stop offset="0" stop-color="#3232de"/><stop offset="0.55" stop-color="#1a1ac4"/><stop offset="1" stop-color="#0202a2"/></linearGradient><linearGradient id="gs" x1="0" y1="0" x2="0" y2="1"><stop offset="0" stop-color="#f2f2f2"/><stop offset="0.45" stop-color="#e6e6e6"/><stop offset="0.5" stop-color="#d8d8d8"/><stop offset="1" stop-color="#cfcfcf"/></linearGradient><linearGradient id="gpu" gradientUnits="userSpaceOnUse" x1="0" y1="67" x2="0" y2="100"><stop offset="0" stop-color="#3232de"/><stop offset="0.55" stop-color="#1a1ac4"/><stop offset="1" stop-color="#0202a2"/></linearGradient></defs>
<g shape-rendering="crispEdges">
<rect x="0" y="41" width="215" height="61" fill="#fff" />
<rect x="0" y="43" width="46" height="25" fill="url(#gb)" />
<rect x="45" y="43" width="1" height="25" fill="#0c0cb0" />
<rect x="0" y="43" width="46" height="1" fill="#1c1cc8" />
<rect x="161" y="43" width="52" height="25" fill="url(#gb)" />
<rect x="161" y="43" width="1" height="25" fill="#0c0cb0" />
<rect x="212" y="43" width="1" height="25" fill="#0c0cb0" />
<rect x="161" y="43" width="52" height="1" fill="#1c1cc8" />
<rect x="0" y="67" width="103" height="33" fill="url(#gp)" />
<rect x="105" y="67" width="108" height="33" fill="url(#gp)" />
<rect x="0" y="99" width="103" height="1" fill="#00008c" />
<rect x="105" y="99" width="108" height="1" fill="#00008c" />
<rect x="102" y="67" width="1" height="33" fill="#0a0aa8" />
<rect x="105" y="67" width="1" height="33" fill="#0a0aa8" />
<rect x="212" y="67" width="1" height="33" fill="#0a0aa8" />
<rect x="46" y="67" width="57" height="1" fill="#1010b4" />
<rect x="105" y="67" width="56" height="1" fill="#1010b4" />
<rect x="0" y="67" width="42" height="1" fill="#8c8cff" />
<rect x="165" y="67" width="45" height="1" fill="#8c8cff" />
<rect x="48" y="43" width="111" height="22" fill="#a8acb4" />
<rect x="49" y="44" width="109" height="20" fill="#fff" />
<rect x="50" y="45" width="18" height="18" fill="url(#gs)" />
<rect x="139" y="45" width="18" height="18" fill="url(#gs)" />
<rect x="69" y="44" width="1" height="20" fill="#b4b8be" />
<rect x="137" y="44" width="1" height="20" fill="#b4b8be" />
</g>
<polygon points="55.5,51.5 61.5,51.5 58.5,55" fill="#4a5cb8"/>
<polygon points="144.5,54.5 150.5,54.5 147.5,51" fill="#4a5cb8"/>
<text x="110.6" y="57.9" font-size="11.6" fill="#000">1.00</text>
<text transform="translate(6.3 59.2) scale(0.87 1)" font-size="12.2" fill="#fff">SELL</text>
<text transform="translate(174.4 59.2) scale(0.95 1)" font-size="12.2" fill="#fff">BUY</text>
<text x="17.3" y="95" font-size="12.5" font-weight="bold" fill="#fff">117</text><text x="41.6" y="95.3" font-size="35.6" textLength="35.2" lengthAdjust="spacingAndGlyphs" fill="#fff" stroke="url(#gpu)" stroke-width="0.9">34</text><text x="81.3" y="78.8" font-size="11.6" font-weight="bold" fill="#fff">5</text>
<text x="127.4" y="95" font-size="12.5" font-weight="bold" fill="#fff">117</text><text x="153.0" y="95.3" font-size="35.6" textLength="35.2" lengthAdjust="spacingAndGlyphs" fill="#fff" stroke="url(#gpu)" stroke-width="0.9">36</text><text x="192.2" y="78.8" font-size="11.6" font-weight="bold" fill="#fff">4</text>
</svg></body></html>
